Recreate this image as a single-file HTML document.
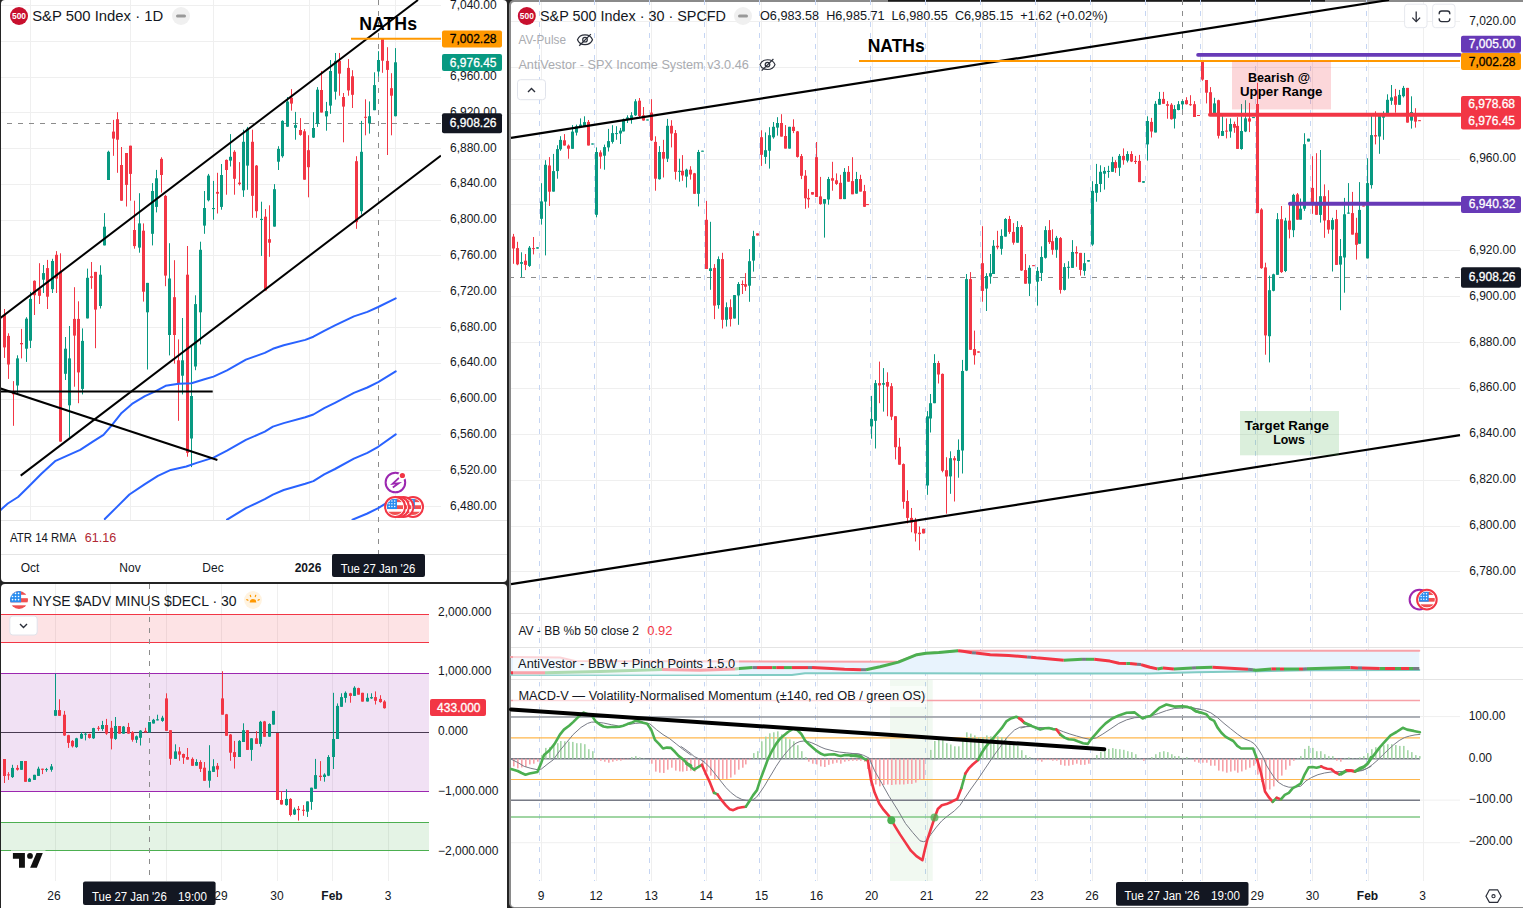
<!DOCTYPE html>
<html><head><meta charset="utf-8"><style>
html,body{margin:0;padding:0;width:1523px;height:908px;overflow:hidden;background:#fff;font-family:"Liberation Sans", sans-serif;}
svg{position:absolute;left:0;top:0;font-family:"Liberation Sans", sans-serif;}
</style></head><body>
<svg width="1523" height="908" viewBox="0 0 1523 908" shape-rendering="auto">
<defs><clipPath id="fc" clipPathUnits="objectBoundingBox"><circle cx="0.5" cy="0.5" r="0.5"/></clipPath></defs>
<rect x="0.00" y="0.00" width="1523.00" height="908.00" fill="#242424" rx="0" />
<rect x="1.00" y="0.00" width="506.00" height="582.00" fill="#fff" rx="4" />
<rect x="1.00" y="584.00" width="506.00" height="330.00" fill="#fff" rx="4" />
<rect x="509.00" y="0.00" width="1020.00" height="908.00" fill="#8a8a8a" rx="5" />
<rect x="511.00" y="2.00" width="1018.00" height="904.90" fill="#fff" rx="3.5" />
<rect x="888.00" y="0.00" width="437.00" height="1.60" fill="#1a1a1a" rx="0" />
<line x1="1.00" y1="506.50" x2="441.00" y2="506.50" stroke="#efefef" stroke-width="1" />
<line x1="1.00" y1="470.50" x2="441.00" y2="470.50" stroke="#efefef" stroke-width="1" />
<line x1="1.00" y1="434.50" x2="441.00" y2="434.50" stroke="#efefef" stroke-width="1" />
<line x1="1.00" y1="399.50" x2="441.00" y2="399.50" stroke="#efefef" stroke-width="1" />
<line x1="1.00" y1="363.50" x2="441.00" y2="363.50" stroke="#efefef" stroke-width="1" />
<line x1="1.00" y1="327.50" x2="441.00" y2="327.50" stroke="#efefef" stroke-width="1" />
<line x1="1.00" y1="291.50" x2="441.00" y2="291.50" stroke="#efefef" stroke-width="1" />
<line x1="1.00" y1="255.50" x2="441.00" y2="255.50" stroke="#efefef" stroke-width="1" />
<line x1="1.00" y1="220.50" x2="441.00" y2="220.50" stroke="#efefef" stroke-width="1" />
<line x1="1.00" y1="184.50" x2="441.00" y2="184.50" stroke="#efefef" stroke-width="1" />
<line x1="1.00" y1="148.50" x2="441.00" y2="148.50" stroke="#efefef" stroke-width="1" />
<line x1="1.00" y1="112.50" x2="441.00" y2="112.50" stroke="#efefef" stroke-width="1" />
<line x1="1.00" y1="77.50" x2="441.00" y2="77.50" stroke="#efefef" stroke-width="1" />
<line x1="1.00" y1="41.50" x2="441.00" y2="41.50" stroke="#efefef" stroke-width="1" />
<line x1="1.00" y1="5.50" x2="441.00" y2="5.50" stroke="#efefef" stroke-width="1" />
<line x1="30.50" y1="0.00" x2="30.50" y2="520.00" stroke="#efefef" stroke-width="1" />
<line x1="130.50" y1="0.00" x2="130.50" y2="520.00" stroke="#efefef" stroke-width="1" />
<line x1="213.50" y1="0.00" x2="213.50" y2="520.00" stroke="#efefef" stroke-width="1" />
<line x1="309.50" y1="0.00" x2="309.50" y2="520.00" stroke="#efefef" stroke-width="1" />
<line x1="395.50" y1="0.00" x2="395.50" y2="520.00" stroke="#efefef" stroke-width="1" />
<line x1="1.00" y1="520.50" x2="441.00" y2="520.50" stroke="#e4e4e4" stroke-width="1" />
<line x1="441.00" y1="520.50" x2="507.00" y2="520.50" stroke="#e4e4e4" stroke-width="1" />
<line x1="1.00" y1="554.50" x2="507.00" y2="554.50" stroke="#e4e4e4" stroke-width="1" />
<text x="450.0" y="505.5" font-size="12" fill="#131722" font-weight="normal" text-anchor="start" dominant-baseline="central" >6,480.00</text>
<text x="450.0" y="469.7" font-size="12" fill="#131722" font-weight="normal" text-anchor="start" dominant-baseline="central" >6,520.00</text>
<text x="450.0" y="433.9" font-size="12" fill="#131722" font-weight="normal" text-anchor="start" dominant-baseline="central" >6,560.00</text>
<text x="450.0" y="398.1" font-size="12" fill="#131722" font-weight="normal" text-anchor="start" dominant-baseline="central" >6,600.00</text>
<text x="450.0" y="362.3" font-size="12" fill="#131722" font-weight="normal" text-anchor="start" dominant-baseline="central" >6,640.00</text>
<text x="450.0" y="326.6" font-size="12" fill="#131722" font-weight="normal" text-anchor="start" dominant-baseline="central" >6,680.00</text>
<text x="450.0" y="290.8" font-size="12" fill="#131722" font-weight="normal" text-anchor="start" dominant-baseline="central" >6,720.00</text>
<text x="450.0" y="255.0" font-size="12" fill="#131722" font-weight="normal" text-anchor="start" dominant-baseline="central" >6,760.00</text>
<text x="450.0" y="219.2" font-size="12" fill="#131722" font-weight="normal" text-anchor="start" dominant-baseline="central" >6,800.00</text>
<text x="450.0" y="183.4" font-size="12" fill="#131722" font-weight="normal" text-anchor="start" dominant-baseline="central" >6,840.00</text>
<text x="450.0" y="147.6" font-size="12" fill="#131722" font-weight="normal" text-anchor="start" dominant-baseline="central" >6,880.00</text>
<text x="450.0" y="111.9" font-size="12" fill="#131722" font-weight="normal" text-anchor="start" dominant-baseline="central" >6,920.00</text>
<text x="450.0" y="76.1" font-size="12" fill="#131722" font-weight="normal" text-anchor="start" dominant-baseline="central" >6,960.00</text>
<text x="450.0" y="4.5" font-size="12" fill="#131722" font-weight="normal" text-anchor="start" dominant-baseline="central" >7,040.00</text>
<circle cx="19" cy="16" r="9" fill="#c8102e"/>
<text x="19.0" y="15.7" font-size="8.5" fill="#fff" font-weight="bold" text-anchor="middle" dominant-baseline="central" textLength="14" lengthAdjust="spacingAndGlyphs" >500</text>
<text x="32.2" y="16.0" font-size="14" fill="#131722" font-weight="normal" text-anchor="start" dominant-baseline="central" textLength="131" lengthAdjust="spacingAndGlyphs" >S&amp;P 500 Index · 1D</text>
<circle cx="181" cy="16" r="9" fill="#f0f0f0"/>
<rect x="176.00" y="14.50" width="10.00" height="3.00" fill="#999" rx="1.5" />
<text x="10.0" y="537.5" font-size="12.5" fill="#131722" font-weight="normal" text-anchor="start" dominant-baseline="central" textLength="66.4" lengthAdjust="spacingAndGlyphs" >ATR 14 RMA</text>
<text x="84.7" y="537.5" font-size="12.5" fill="#b22833" font-weight="normal" text-anchor="start" dominant-baseline="central" textLength="31.5" lengthAdjust="spacingAndGlyphs" >61.16</text>
<text x="30.0" y="567.5" font-size="12" fill="#131722" font-weight="normal" text-anchor="middle" dominant-baseline="central" >Oct</text>
<text x="130.0" y="567.5" font-size="12" fill="#131722" font-weight="normal" text-anchor="middle" dominant-baseline="central" >Nov</text>
<text x="213.0" y="567.5" font-size="12" fill="#131722" font-weight="normal" text-anchor="middle" dominant-baseline="central" >Dec</text>
<text x="308.0" y="567.5" font-size="12" fill="#131722" font-weight="bold" text-anchor="middle" dominant-baseline="central" >2026</text>
<rect x="332.00" y="554.00" width="93.00" height="23.00" fill="#131722" rx="2" />
<text x="378.0" y="568.5" font-size="12" fill="#fff" font-weight="normal" text-anchor="middle" dominant-baseline="central" textLength="74.7" lengthAdjust="spacingAndGlyphs" >Tue 27 Jan '26</text>
<line x1="55.50" y1="584.00" x2="55.50" y2="881.00" stroke="#efefef" stroke-width="1" />
<line x1="110.50" y1="584.00" x2="110.50" y2="881.00" stroke="#efefef" stroke-width="1" />
<line x1="166.50" y1="584.00" x2="166.50" y2="881.00" stroke="#efefef" stroke-width="1" />
<line x1="221.50" y1="584.00" x2="221.50" y2="881.00" stroke="#efefef" stroke-width="1" />
<line x1="277.50" y1="584.00" x2="277.50" y2="881.00" stroke="#efefef" stroke-width="1" />
<line x1="332.50" y1="584.00" x2="332.50" y2="881.00" stroke="#efefef" stroke-width="1" />
<line x1="388.50" y1="584.00" x2="388.50" y2="881.00" stroke="#efefef" stroke-width="1" />
<rect x="1.00" y="614.50" width="428.00" height="28.00" fill="rgba(242,54,69,0.14)" rx="0" />
<line x1="1.00" y1="614.50" x2="429.00" y2="614.50" stroke="#f23645" stroke-width="1" />
<line x1="1.00" y1="642.50" x2="429.00" y2="642.50" stroke="#f23645" stroke-width="1" />
<rect x="1.00" y="673.50" width="428.00" height="118.00" fill="rgba(156,39,176,0.14)" rx="0" />
<line x1="1.00" y1="673.50" x2="429.00" y2="673.50" stroke="#9c27b0" stroke-width="1" />
<line x1="1.00" y1="791.50" x2="429.00" y2="791.50" stroke="#9c27b0" stroke-width="1" />
<line x1="1.00" y1="732.50" x2="429.00" y2="732.50" stroke="#4a3b52" stroke-width="1" />
<rect x="1.00" y="822.50" width="428.00" height="28.00" fill="rgba(76,175,80,0.15)" rx="0" />
<line x1="1.00" y1="822.50" x2="429.00" y2="822.50" stroke="#4caf50" stroke-width="1" />
<line x1="1.00" y1="850.50" x2="429.00" y2="850.50" stroke="#4caf50" stroke-width="1" />
<text x="438.0" y="611.5" font-size="12" fill="#131722" font-weight="normal" text-anchor="start" dominant-baseline="central" >2,000.000</text>
<text x="438.0" y="671.4" font-size="12" fill="#131722" font-weight="normal" text-anchor="start" dominant-baseline="central" >1,000.000</text>
<text x="438.0" y="731.4" font-size="12" fill="#131722" font-weight="normal" text-anchor="start" dominant-baseline="central" >0.000</text>
<text x="438.0" y="791.4" font-size="12" fill="#131722" font-weight="normal" text-anchor="start" dominant-baseline="central" >−1,000.000</text>
<text x="438.0" y="851.3" font-size="12" fill="#131722" font-weight="normal" text-anchor="start" dominant-baseline="central" >−2,000.000</text>
<text x="32.5" y="600.5" font-size="14" fill="#131722" font-weight="normal" text-anchor="start" dominant-baseline="central" textLength="204" lengthAdjust="spacingAndGlyphs" >NYSE $ADV MINUS $DECL · 30</text>
<text x="54.0" y="896.3" font-size="12" fill="#131722" font-weight="normal" text-anchor="middle" dominant-baseline="central" >26</text>
<text x="221.0" y="896.3" font-size="12" fill="#131722" font-weight="normal" text-anchor="middle" dominant-baseline="central" >29</text>
<text x="277.0" y="896.3" font-size="12" fill="#131722" font-weight="normal" text-anchor="middle" dominant-baseline="central" >30</text>
<text x="332.0" y="896.3" font-size="12" fill="#131722" font-weight="bold" text-anchor="middle" dominant-baseline="central" >Feb</text>
<text x="388.0" y="896.3" font-size="12" fill="#131722" font-weight="normal" text-anchor="middle" dominant-baseline="central" >3</text>
<rect x="83.00" y="881.50" width="132.60" height="23.50" fill="#131722" rx="2" />
<text x="92.0" y="896.5" font-size="12" fill="#fff" font-weight="normal" text-anchor="start" dominant-baseline="central" textLength="74.8" lengthAdjust="spacingAndGlyphs" >Tue 27 Jan '26</text>
<text x="178.0" y="896.5" font-size="12" fill="#fff" font-weight="normal" text-anchor="start" dominant-baseline="central" textLength="29" lengthAdjust="spacingAndGlyphs" >19:00</text>
<line x1="511.00" y1="571.50" x2="1460.00" y2="571.50" stroke="#efefef" stroke-width="1" />
<line x1="511.00" y1="526.50" x2="1460.00" y2="526.50" stroke="#efefef" stroke-width="1" />
<line x1="511.00" y1="480.50" x2="1460.00" y2="480.50" stroke="#efefef" stroke-width="1" />
<line x1="511.00" y1="434.50" x2="1460.00" y2="434.50" stroke="#efefef" stroke-width="1" />
<line x1="511.00" y1="388.50" x2="1460.00" y2="388.50" stroke="#efefef" stroke-width="1" />
<line x1="511.00" y1="342.50" x2="1460.00" y2="342.50" stroke="#efefef" stroke-width="1" />
<line x1="511.00" y1="296.50" x2="1460.00" y2="296.50" stroke="#efefef" stroke-width="1" />
<line x1="511.00" y1="250.50" x2="1460.00" y2="250.50" stroke="#efefef" stroke-width="1" />
<line x1="511.00" y1="204.50" x2="1460.00" y2="204.50" stroke="#efefef" stroke-width="1" />
<line x1="511.00" y1="159.50" x2="1460.00" y2="159.50" stroke="#efefef" stroke-width="1" />
<line x1="511.00" y1="113.50" x2="1460.00" y2="113.50" stroke="#efefef" stroke-width="1" />
<line x1="511.00" y1="67.50" x2="1460.00" y2="67.50" stroke="#efefef" stroke-width="1" />
<line x1="511.00" y1="21.50" x2="1460.00" y2="21.50" stroke="#efefef" stroke-width="1" />
<line x1="541.50" y1="2.00" x2="541.50" y2="881.00" stroke="#efefef" stroke-width="1" />
<line x1="539.50" y1="0.00" x2="539.50" y2="881.00" stroke="#c5d5f3" stroke-width="1" stroke-dasharray="5,6" />
<line x1="596.50" y1="2.00" x2="596.50" y2="881.00" stroke="#efefef" stroke-width="1" />
<line x1="594.50" y1="0.00" x2="594.50" y2="881.00" stroke="#c5d5f3" stroke-width="1" stroke-dasharray="5,6" />
<line x1="651.50" y1="2.00" x2="651.50" y2="881.00" stroke="#efefef" stroke-width="1" />
<line x1="649.50" y1="0.00" x2="649.50" y2="881.00" stroke="#c5d5f3" stroke-width="1" stroke-dasharray="5,6" />
<line x1="706.50" y1="2.00" x2="706.50" y2="881.00" stroke="#efefef" stroke-width="1" />
<line x1="704.50" y1="0.00" x2="704.50" y2="881.00" stroke="#c5d5f3" stroke-width="1" stroke-dasharray="5,6" />
<line x1="761.50" y1="2.00" x2="761.50" y2="881.00" stroke="#efefef" stroke-width="1" />
<line x1="759.50" y1="0.00" x2="759.50" y2="881.00" stroke="#c5d5f3" stroke-width="1" stroke-dasharray="5,6" />
<line x1="817.50" y1="2.00" x2="817.50" y2="881.00" stroke="#efefef" stroke-width="1" />
<line x1="815.50" y1="0.00" x2="815.50" y2="881.00" stroke="#c5d5f3" stroke-width="1" stroke-dasharray="5,6" />
<line x1="872.50" y1="2.00" x2="872.50" y2="881.00" stroke="#efefef" stroke-width="1" />
<line x1="870.50" y1="0.00" x2="870.50" y2="881.00" stroke="#c5d5f3" stroke-width="1" stroke-dasharray="5,6" />
<line x1="927.50" y1="2.00" x2="927.50" y2="881.00" stroke="#efefef" stroke-width="1" />
<line x1="925.50" y1="0.00" x2="925.50" y2="881.00" stroke="#c5d5f3" stroke-width="1" stroke-dasharray="5,6" />
<line x1="982.50" y1="2.00" x2="982.50" y2="881.00" stroke="#efefef" stroke-width="1" />
<line x1="980.50" y1="0.00" x2="980.50" y2="881.00" stroke="#c5d5f3" stroke-width="1" stroke-dasharray="5,6" />
<line x1="1037.50" y1="2.00" x2="1037.50" y2="881.00" stroke="#efefef" stroke-width="1" />
<line x1="1035.50" y1="0.00" x2="1035.50" y2="881.00" stroke="#c5d5f3" stroke-width="1" stroke-dasharray="5,6" />
<line x1="1092.50" y1="2.00" x2="1092.50" y2="881.00" stroke="#efefef" stroke-width="1" />
<line x1="1090.50" y1="0.00" x2="1090.50" y2="881.00" stroke="#c5d5f3" stroke-width="1" stroke-dasharray="5,6" />
<line x1="1147.50" y1="2.00" x2="1147.50" y2="881.00" stroke="#efefef" stroke-width="1" />
<line x1="1145.50" y1="0.00" x2="1145.50" y2="881.00" stroke="#c5d5f3" stroke-width="1" stroke-dasharray="5,6" />
<line x1="1202.50" y1="2.00" x2="1202.50" y2="881.00" stroke="#efefef" stroke-width="1" />
<line x1="1200.50" y1="0.00" x2="1200.50" y2="881.00" stroke="#c5d5f3" stroke-width="1" stroke-dasharray="5,6" />
<line x1="1257.50" y1="2.00" x2="1257.50" y2="881.00" stroke="#efefef" stroke-width="1" />
<line x1="1255.50" y1="0.00" x2="1255.50" y2="881.00" stroke="#c5d5f3" stroke-width="1" stroke-dasharray="5,6" />
<line x1="1312.50" y1="2.00" x2="1312.50" y2="881.00" stroke="#efefef" stroke-width="1" />
<line x1="1310.50" y1="0.00" x2="1310.50" y2="881.00" stroke="#c5d5f3" stroke-width="1" stroke-dasharray="5,6" />
<line x1="1368.50" y1="2.00" x2="1368.50" y2="881.00" stroke="#efefef" stroke-width="1" />
<line x1="1366.50" y1="0.00" x2="1366.50" y2="881.00" stroke="#c5d5f3" stroke-width="1" stroke-dasharray="5,6" />
<line x1="1423.50" y1="2.00" x2="1423.50" y2="881.00" stroke="#efefef" stroke-width="1" />
<line x1="511.00" y1="613.50" x2="1523.00" y2="613.50" stroke="#e4e4e4" stroke-width="1" />
<line x1="511.00" y1="647.50" x2="1523.00" y2="647.50" stroke="#e4e4e4" stroke-width="1" />
<line x1="511.00" y1="679.50" x2="1523.00" y2="679.50" stroke="#e4e4e4" stroke-width="1" />
<text x="1469.2" y="570.9" font-size="12" fill="#131722" font-weight="normal" text-anchor="start" dominant-baseline="central" >6,780.00</text>
<text x="1469.2" y="525.0" font-size="12" fill="#131722" font-weight="normal" text-anchor="start" dominant-baseline="central" >6,800.00</text>
<text x="1469.2" y="479.2" font-size="12" fill="#131722" font-weight="normal" text-anchor="start" dominant-baseline="central" >6,820.00</text>
<text x="1469.2" y="433.3" font-size="12" fill="#131722" font-weight="normal" text-anchor="start" dominant-baseline="central" >6,840.00</text>
<text x="1469.2" y="387.4" font-size="12" fill="#131722" font-weight="normal" text-anchor="start" dominant-baseline="central" >6,860.00</text>
<text x="1469.2" y="341.6" font-size="12" fill="#131722" font-weight="normal" text-anchor="start" dominant-baseline="central" >6,880.00</text>
<text x="1469.2" y="295.7" font-size="12" fill="#131722" font-weight="normal" text-anchor="start" dominant-baseline="central" >6,900.00</text>
<text x="1469.2" y="249.8" font-size="12" fill="#131722" font-weight="normal" text-anchor="start" dominant-baseline="central" >6,920.00</text>
<text x="1469.2" y="158.1" font-size="12" fill="#131722" font-weight="normal" text-anchor="start" dominant-baseline="central" >6,960.00</text>
<text x="1469.2" y="20.5" font-size="12" fill="#131722" font-weight="normal" text-anchor="start" dominant-baseline="central" >7,020.00</text>
<circle cx="526.8" cy="16" r="9" fill="#c8102e"/>
<text x="526.8" y="15.7" font-size="8.5" fill="#fff" font-weight="bold" text-anchor="middle" dominant-baseline="central" textLength="14" lengthAdjust="spacingAndGlyphs" >500</text>
<text x="540.0" y="16.0" font-size="14" fill="#131722" font-weight="normal" text-anchor="start" dominant-baseline="central" textLength="186" lengthAdjust="spacingAndGlyphs" >S&amp;P 500 Index · 30 · SPCFD</text>
<circle cx="743" cy="16" r="9" fill="#f0f0f0"/>
<rect x="738.00" y="14.50" width="10.00" height="3.00" fill="#999" rx="1.5" />
<text x="760.0" y="16.0" font-size="12.5" fill="#131722" font-weight="normal" text-anchor="start" dominant-baseline="central" textLength="347.6" lengthAdjust="spacingAndGlyphs" >O6,983.58 &#160;H6,985.71 &#160;L6,980.55 &#160;C6,985.15 &#160;+1.62 (+0.02%)</text>
<text x="518.4" y="40.2" font-size="12.5" fill="#a9abb0" font-weight="normal" text-anchor="start" dominant-baseline="central" textLength="47.6" lengthAdjust="spacingAndGlyphs" >AV-Pulse</text>
<text x="518.4" y="64.6" font-size="12.5" fill="#a9abb0" font-weight="normal" text-anchor="start" dominant-baseline="central" textLength="230.4" lengthAdjust="spacingAndGlyphs" >AntiVestor - SPX Income System v3.0.46</text>
<rect x="517.50" y="79.70" width="28.00" height="20.00" fill="#fff" rx="3" stroke="#e0e3eb" stroke-width="1"/>
<text x="1468.7" y="716.1" font-size="12" fill="#131722" font-weight="normal" text-anchor="start" dominant-baseline="central" >100.00</text>
<text x="1468.7" y="757.7" font-size="12" fill="#131722" font-weight="normal" text-anchor="start" dominant-baseline="central" >0.00</text>
<text x="1468.7" y="799.3" font-size="12" fill="#131722" font-weight="normal" text-anchor="start" dominant-baseline="central" >−100.00</text>
<text x="1468.7" y="840.9" font-size="12" fill="#131722" font-weight="normal" text-anchor="start" dominant-baseline="central" >−200.00</text>
<text x="541.0" y="896.3" font-size="12" fill="#131722" font-weight="normal" text-anchor="middle" dominant-baseline="central" >9</text>
<text x="596.1" y="896.3" font-size="12" fill="#131722" font-weight="normal" text-anchor="middle" dominant-baseline="central" >12</text>
<text x="651.2" y="896.3" font-size="12" fill="#131722" font-weight="normal" text-anchor="middle" dominant-baseline="central" >13</text>
<text x="706.3" y="896.3" font-size="12" fill="#131722" font-weight="normal" text-anchor="middle" dominant-baseline="central" >14</text>
<text x="761.4" y="896.3" font-size="12" fill="#131722" font-weight="normal" text-anchor="middle" dominant-baseline="central" >15</text>
<text x="816.5" y="896.3" font-size="12" fill="#131722" font-weight="normal" text-anchor="middle" dominant-baseline="central" >16</text>
<text x="871.6" y="896.3" font-size="12" fill="#131722" font-weight="normal" text-anchor="middle" dominant-baseline="central" >20</text>
<text x="926.7" y="896.3" font-size="12" fill="#131722" font-weight="normal" text-anchor="middle" dominant-baseline="central" >21</text>
<text x="981.8" y="896.3" font-size="12" fill="#131722" font-weight="normal" text-anchor="middle" dominant-baseline="central" >22</text>
<text x="1036.9" y="896.3" font-size="12" fill="#131722" font-weight="normal" text-anchor="middle" dominant-baseline="central" >23</text>
<text x="1092.0" y="896.3" font-size="12" fill="#131722" font-weight="normal" text-anchor="middle" dominant-baseline="central" >26</text>
<text x="1257.3" y="896.3" font-size="12" fill="#131722" font-weight="normal" text-anchor="middle" dominant-baseline="central" >29</text>
<text x="1312.4" y="896.3" font-size="12" fill="#131722" font-weight="normal" text-anchor="middle" dominant-baseline="central" >30</text>
<text x="1367.5" y="896.3" font-size="12" fill="#131722" font-weight="bold" text-anchor="middle" dominant-baseline="central" >Feb</text>
<text x="1422.6" y="896.3" font-size="12" fill="#131722" font-weight="normal" text-anchor="middle" dominant-baseline="central" >3</text>
<rect x="1116.00" y="882.00" width="132.50" height="23.70" fill="#131722" rx="2" />
<text x="1124.5" y="896.3" font-size="12" fill="#fff" font-weight="normal" text-anchor="start" dominant-baseline="central" textLength="75.1" lengthAdjust="spacingAndGlyphs" >Tue 27 Jan '26</text>
<text x="1211.0" y="896.3" font-size="12" fill="#fff" font-weight="normal" text-anchor="start" dominant-baseline="central" textLength="29" lengthAdjust="spacingAndGlyphs" >19:00</text>
<line x1="1182.50" y1="0.00" x2="1182.50" y2="881.00" stroke="#8c8c8c" stroke-width="1" stroke-dasharray="5,6" />
<line x1="1460.00" y1="277.50" x2="511.00" y2="277.50" stroke="#8c8c8c" stroke-width="1" stroke-dasharray="5,6" />
<rect x="513" y="233.9" width="1" height="29.9" fill="#f23645"/>
<rect x="512" y="236.6" width="3" height="11.9" fill="#f23645"/>
<rect x="517" y="241.8" width="1" height="23.4" fill="#f23645"/>
<rect x="516" y="248.1" width="3" height="16.3" fill="#f23645"/>
<rect x="521" y="252.3" width="1" height="25.1" fill="#089981"/>
<rect x="520" y="262.1" width="3" height="1.7" fill="#089981"/>
<rect x="525" y="254.0" width="1" height="16.1" fill="#f23645"/>
<rect x="524" y="260.7" width="3" height="4.2" fill="#f23645"/>
<rect x="529" y="246.0" width="1" height="20.9" fill="#089981"/>
<rect x="528" y="247.7" width="3" height="18.2" fill="#089981"/>
<rect x="533" y="237.0" width="1" height="17.4" fill="#f23645"/>
<rect x="532" y="248.1" width="3" height="1.0" fill="#f23645"/>
<rect x="537" y="247.3" width="1" height="1.3" fill="#089981"/>
<rect x="536" y="247.3" width="3" height="1.3" fill="#089981"/>
<rect x="541" y="183.2" width="1" height="41.4" fill="#089981"/>
<rect x="540" y="201.4" width="3" height="17.4" fill="#089981"/>
<rect x="545" y="160.2" width="1" height="95.2" fill="#089981"/>
<rect x="544" y="164.8" width="3" height="36.8" fill="#089981"/>
<rect x="549" y="157.1" width="1" height="48.8" fill="#f23645"/>
<rect x="548" y="165.5" width="3" height="26.2" fill="#f23645"/>
<rect x="553" y="153.9" width="1" height="37.7" fill="#089981"/>
<rect x="552" y="171.1" width="3" height="20.5" fill="#089981"/>
<rect x="557" y="145.2" width="1" height="33.5" fill="#089981"/>
<rect x="556" y="149.1" width="3" height="22.0" fill="#089981"/>
<rect x="560" y="136.2" width="1" height="14.6" fill="#089981"/>
<rect x="559" y="139.9" width="3" height="9.4" fill="#089981"/>
<rect x="564" y="134.1" width="1" height="11.5" fill="#f23645"/>
<rect x="563" y="140.3" width="3" height="5.2" fill="#f23645"/>
<rect x="568" y="144.5" width="1" height="14.2" fill="#f23645"/>
<rect x="567" y="145.6" width="3" height="3.1" fill="#f23645"/>
<rect x="572" y="125.1" width="1" height="23.6" fill="#089981"/>
<rect x="571" y="131.6" width="3" height="17.2" fill="#089981"/>
<rect x="576" y="124.6" width="1" height="10.9" fill="#089981"/>
<rect x="575" y="126.3" width="3" height="6.3" fill="#089981"/>
<rect x="580" y="118.4" width="1" height="8.8" fill="#089981"/>
<rect x="579" y="124.6" width="3" height="2.1" fill="#089981"/>
<rect x="584" y="116.3" width="1" height="10.5" fill="#089981"/>
<rect x="583" y="122.1" width="3" height="4.2" fill="#089981"/>
<rect x="588" y="120.0" width="1" height="25.5" fill="#f23645"/>
<rect x="587" y="121.9" width="3" height="23.6" fill="#f23645"/>
<rect x="592" y="143.5" width="1" height="1.0" fill="#089981"/>
<rect x="591" y="143.5" width="3" height="1.0" fill="#089981"/>
<rect x="596" y="147.4" width="1" height="69.9" fill="#089981"/>
<rect x="595" y="152.0" width="3" height="62.8" fill="#089981"/>
<rect x="600" y="150.3" width="1" height="18.4" fill="#f23645"/>
<rect x="599" y="152.4" width="3" height="4.2" fill="#f23645"/>
<rect x="604" y="144.6" width="1" height="25.1" fill="#089981"/>
<rect x="603" y="147.1" width="3" height="8.6" fill="#089981"/>
<rect x="608" y="128.9" width="1" height="22.6" fill="#089981"/>
<rect x="607" y="141.1" width="3" height="6.3" fill="#089981"/>
<rect x="612" y="125.2" width="1" height="18.4" fill="#089981"/>
<rect x="611" y="133.1" width="3" height="8.8" fill="#089981"/>
<rect x="616" y="126.2" width="1" height="13.6" fill="#089981"/>
<rect x="615" y="133.1" width="3" height="1.0" fill="#089981"/>
<rect x="620" y="127.9" width="1" height="16.1" fill="#089981"/>
<rect x="619" y="130.6" width="3" height="2.9" fill="#089981"/>
<rect x="623" y="118.5" width="1" height="13.0" fill="#089981"/>
<rect x="622" y="119.5" width="3" height="11.9" fill="#089981"/>
<rect x="627" y="115.3" width="1" height="7.7" fill="#089981"/>
<rect x="626" y="117.4" width="3" height="2.7" fill="#089981"/>
<rect x="631" y="112.2" width="1" height="11.5" fill="#089981"/>
<rect x="630" y="115.3" width="3" height="4.2" fill="#089981"/>
<rect x="635" y="99.2" width="1" height="16.7" fill="#089981"/>
<rect x="634" y="101.3" width="3" height="14.0" fill="#089981"/>
<rect x="639" y="98.0" width="1" height="20.1" fill="#f23645"/>
<rect x="638" y="100.7" width="3" height="15.3" fill="#f23645"/>
<rect x="643" y="107.0" width="1" height="13.6" fill="#f23645"/>
<rect x="642" y="115.3" width="3" height="5.2" fill="#f23645"/>
<rect x="647" y="119.5" width="1" height="0.8" fill="#089981"/>
<rect x="646" y="119.5" width="3" height="1.0" fill="#089981"/>
<rect x="651" y="99.2" width="1" height="41.8" fill="#f23645"/>
<rect x="650" y="112.6" width="3" height="27.8" fill="#f23645"/>
<rect x="655" y="136.3" width="1" height="54.4" fill="#f23645"/>
<rect x="654" y="141.9" width="3" height="36.8" fill="#f23645"/>
<rect x="659" y="146.1" width="1" height="33.5" fill="#089981"/>
<rect x="658" y="152.0" width="3" height="27.2" fill="#089981"/>
<rect x="663" y="139.8" width="1" height="37.7" fill="#f23645"/>
<rect x="662" y="152.0" width="3" height="6.7" fill="#f23645"/>
<rect x="667" y="118.9" width="1" height="43.1" fill="#089981"/>
<rect x="666" y="125.8" width="3" height="32.9" fill="#089981"/>
<rect x="671" y="120.2" width="1" height="27.2" fill="#f23645"/>
<rect x="670" y="125.8" width="3" height="7.7" fill="#f23645"/>
<rect x="675" y="130.0" width="1" height="49.6" fill="#f23645"/>
<rect x="674" y="133.1" width="3" height="38.7" fill="#f23645"/>
<rect x="679" y="158.7" width="1" height="23.0" fill="#089981"/>
<rect x="678" y="170.8" width="3" height="1.0" fill="#089981"/>
<rect x="682" y="155.1" width="1" height="25.7" fill="#f23645"/>
<rect x="681" y="170.8" width="3" height="4.6" fill="#f23645"/>
<rect x="686" y="168.7" width="1" height="18.8" fill="#089981"/>
<rect x="685" y="169.7" width="3" height="6.9" fill="#089981"/>
<rect x="690" y="166.2" width="1" height="13.4" fill="#f23645"/>
<rect x="689" y="169.7" width="3" height="4.8" fill="#f23645"/>
<rect x="694" y="172.9" width="1" height="20.9" fill="#f23645"/>
<rect x="693" y="173.3" width="3" height="20.5" fill="#f23645"/>
<rect x="698" y="149.9" width="1" height="56.5" fill="#089981"/>
<rect x="697" y="152.0" width="3" height="41.8" fill="#089981"/>
<rect x="702" y="150.7" width="1" height="0.8" fill="#089981"/>
<rect x="701" y="150.7" width="3" height="1.0" fill="#089981"/>
<rect x="706" y="200.9" width="1" height="68.0" fill="#f23645"/>
<rect x="705" y="219.8" width="3" height="49.2" fill="#f23645"/>
<rect x="710" y="221.8" width="1" height="68.0" fill="#089981"/>
<rect x="709" y="268.3" width="3" height="2.7" fill="#089981"/>
<rect x="714" y="264.1" width="1" height="55.0" fill="#f23645"/>
<rect x="713" y="267.9" width="3" height="37.7" fill="#f23645"/>
<rect x="718" y="256.4" width="1" height="52.3" fill="#089981"/>
<rect x="717" y="259.1" width="3" height="46.0" fill="#089981"/>
<rect x="722" y="252.8" width="1" height="75.7" fill="#f23645"/>
<rect x="721" y="259.1" width="3" height="60.7" fill="#f23645"/>
<rect x="726" y="302.4" width="1" height="24.1" fill="#089981"/>
<rect x="725" y="307.2" width="3" height="12.6" fill="#089981"/>
<rect x="730" y="299.3" width="1" height="27.2" fill="#f23645"/>
<rect x="729" y="307.2" width="3" height="11.9" fill="#f23645"/>
<rect x="734" y="295.1" width="1" height="23.4" fill="#089981"/>
<rect x="733" y="295.1" width="3" height="23.4" fill="#089981"/>
<rect x="738" y="282.1" width="1" height="42.7" fill="#089981"/>
<rect x="737" y="284.0" width="3" height="11.5" fill="#089981"/>
<rect x="742" y="280.4" width="1" height="13.6" fill="#f23645"/>
<rect x="741" y="284.0" width="3" height="1.0" fill="#f23645"/>
<rect x="745" y="273.1" width="1" height="17.8" fill="#f23645"/>
<rect x="744" y="284.2" width="3" height="2.5" fill="#f23645"/>
<rect x="749" y="249.1" width="1" height="52.7" fill="#089981"/>
<rect x="748" y="261.2" width="3" height="24.5" fill="#089981"/>
<rect x="753" y="230.8" width="1" height="40.8" fill="#089981"/>
<rect x="752" y="236.1" width="3" height="24.5" fill="#089981"/>
<rect x="757" y="233.4" width="1" height="2.1" fill="#f23645"/>
<rect x="756" y="233.4" width="3" height="2.1" fill="#f23645"/>
<rect x="761" y="130.3" width="1" height="35.6" fill="#f23645"/>
<rect x="760" y="137.2" width="3" height="17.6" fill="#f23645"/>
<rect x="765" y="132.4" width="1" height="31.4" fill="#089981"/>
<rect x="764" y="150.2" width="3" height="6.7" fill="#089981"/>
<rect x="769" y="127.2" width="1" height="41.4" fill="#089981"/>
<rect x="768" y="135.2" width="3" height="15.5" fill="#089981"/>
<rect x="773" y="122.0" width="1" height="16.7" fill="#089981"/>
<rect x="772" y="126.8" width="3" height="10.5" fill="#089981"/>
<rect x="777" y="117.2" width="1" height="18.4" fill="#089981"/>
<rect x="776" y="123.0" width="3" height="4.6" fill="#089981"/>
<rect x="781" y="114.2" width="1" height="22.4" fill="#f23645"/>
<rect x="780" y="123.0" width="3" height="13.6" fill="#f23645"/>
<rect x="785" y="125.1" width="1" height="23.4" fill="#f23645"/>
<rect x="784" y="136.0" width="3" height="12.6" fill="#f23645"/>
<rect x="789" y="126.8" width="1" height="21.8" fill="#089981"/>
<rect x="788" y="126.8" width="3" height="21.8" fill="#089981"/>
<rect x="793" y="119.3" width="1" height="13.8" fill="#f23645"/>
<rect x="792" y="126.8" width="3" height="4.2" fill="#f23645"/>
<rect x="797" y="131.0" width="1" height="26.6" fill="#f23645"/>
<rect x="796" y="131.4" width="3" height="25.5" fill="#f23645"/>
<rect x="801" y="154.0" width="1" height="25.1" fill="#f23645"/>
<rect x="800" y="156.1" width="3" height="19.7" fill="#f23645"/>
<rect x="805" y="170.1" width="1" height="38.7" fill="#f23645"/>
<rect x="804" y="175.7" width="3" height="22.6" fill="#f23645"/>
<rect x="808" y="188.9" width="1" height="18.8" fill="#f23645"/>
<rect x="807" y="197.9" width="3" height="1.5" fill="#f23645"/>
<rect x="812" y="192.1" width="1" height="2.5" fill="#f23645"/>
<rect x="811" y="192.1" width="3" height="2.5" fill="#f23645"/>
<rect x="816" y="142.0" width="1" height="55.0" fill="#f23645"/>
<rect x="815" y="157.2" width="3" height="39.8" fill="#f23645"/>
<rect x="820" y="176.9" width="1" height="27.8" fill="#f23645"/>
<rect x="819" y="196.4" width="3" height="7.7" fill="#f23645"/>
<rect x="824" y="199.1" width="1" height="38.5" fill="#089981"/>
<rect x="823" y="199.1" width="3" height="4.6" fill="#089981"/>
<rect x="828" y="176.9" width="1" height="27.8" fill="#089981"/>
<rect x="827" y="179.0" width="3" height="20.5" fill="#089981"/>
<rect x="832" y="161.8" width="1" height="28.9" fill="#f23645"/>
<rect x="831" y="178.2" width="3" height="2.5" fill="#f23645"/>
<rect x="836" y="173.4" width="1" height="11.5" fill="#f23645"/>
<rect x="835" y="180.3" width="3" height="3.6" fill="#f23645"/>
<rect x="840" y="174.8" width="1" height="24.3" fill="#f23645"/>
<rect x="839" y="182.8" width="3" height="16.3" fill="#f23645"/>
<rect x="844" y="168.1" width="1" height="31.0" fill="#089981"/>
<rect x="843" y="171.9" width="3" height="27.2" fill="#089981"/>
<rect x="848" y="166.0" width="1" height="15.7" fill="#f23645"/>
<rect x="847" y="171.9" width="3" height="9.8" fill="#f23645"/>
<rect x="852" y="157.2" width="1" height="37.0" fill="#f23645"/>
<rect x="851" y="181.1" width="3" height="13.2" fill="#f23645"/>
<rect x="856" y="171.9" width="1" height="21.8" fill="#089981"/>
<rect x="855" y="179.0" width="3" height="14.6" fill="#089981"/>
<rect x="860" y="174.8" width="1" height="16.7" fill="#f23645"/>
<rect x="859" y="179.0" width="3" height="12.6" fill="#f23645"/>
<rect x="864" y="184.9" width="1" height="22.0" fill="#f23645"/>
<rect x="863" y="191.1" width="3" height="15.7" fill="#f23645"/>
<rect x="867" y="204.1" width="1" height="0.8" fill="#f23645"/>
<rect x="866" y="204.1" width="3" height="1.0" fill="#f23645"/>
<rect x="871" y="395.9" width="1" height="42.8" fill="#089981"/>
<rect x="870" y="419.0" width="3" height="7.4" fill="#089981"/>
<rect x="875" y="380.1" width="1" height="68.4" fill="#089981"/>
<rect x="874" y="383.1" width="3" height="37.7" fill="#089981"/>
<rect x="879" y="361.6" width="1" height="41.6" fill="#f23645"/>
<rect x="878" y="383.1" width="3" height="2.3" fill="#f23645"/>
<rect x="883" y="368.1" width="1" height="43.5" fill="#089981"/>
<rect x="882" y="383.1" width="3" height="1.6" fill="#089981"/>
<rect x="887" y="372.3" width="1" height="43.9" fill="#f23645"/>
<rect x="886" y="382.0" width="3" height="4.6" fill="#f23645"/>
<rect x="891" y="383.1" width="1" height="37.0" fill="#f23645"/>
<rect x="890" y="386.2" width="3" height="30.5" fill="#f23645"/>
<rect x="895" y="416.2" width="1" height="43.2" fill="#f23645"/>
<rect x="894" y="416.2" width="3" height="31.0" fill="#f23645"/>
<rect x="899" y="437.9" width="1" height="26.8" fill="#f23645"/>
<rect x="898" y="446.7" width="3" height="18.0" fill="#f23645"/>
<rect x="903" y="463.4" width="1" height="45.3" fill="#f23645"/>
<rect x="902" y="464.1" width="3" height="37.7" fill="#f23645"/>
<rect x="907" y="490.2" width="1" height="33.3" fill="#f23645"/>
<rect x="906" y="501.0" width="3" height="16.9" fill="#f23645"/>
<rect x="911" y="508.0" width="1" height="24.3" fill="#f23645"/>
<rect x="910" y="517.9" width="3" height="4.6" fill="#f23645"/>
<rect x="915" y="517.9" width="1" height="23.6" fill="#f23645"/>
<rect x="914" y="520.7" width="3" height="12.7" fill="#f23645"/>
<rect x="919" y="526.5" width="1" height="23.8" fill="#f23645"/>
<rect x="918" y="532.7" width="3" height="1.4" fill="#f23645"/>
<rect x="923" y="528.8" width="1" height="4.6" fill="#f23645"/>
<rect x="922" y="528.8" width="3" height="4.6" fill="#f23645"/>
<rect x="927" y="411.1" width="1" height="83.7" fill="#089981"/>
<rect x="926" y="416.4" width="3" height="69.1" fill="#089981"/>
<rect x="930" y="394.0" width="1" height="38.5" fill="#089981"/>
<rect x="929" y="403.2" width="3" height="15.3" fill="#089981"/>
<rect x="934" y="354.2" width="1" height="49.0" fill="#089981"/>
<rect x="933" y="363.0" width="3" height="40.2" fill="#089981"/>
<rect x="938" y="360.9" width="1" height="22.6" fill="#f23645"/>
<rect x="937" y="363.0" width="3" height="11.5" fill="#f23645"/>
<rect x="942" y="373.5" width="1" height="98.8" fill="#f23645"/>
<rect x="941" y="373.9" width="3" height="96.9" fill="#f23645"/>
<rect x="946" y="457.2" width="1" height="56.5" fill="#f23645"/>
<rect x="945" y="470.2" width="3" height="6.3" fill="#f23645"/>
<rect x="950" y="451.3" width="1" height="42.5" fill="#089981"/>
<rect x="949" y="458.2" width="3" height="18.2" fill="#089981"/>
<rect x="954" y="456.1" width="1" height="45.4" fill="#f23645"/>
<rect x="953" y="458.2" width="3" height="2.1" fill="#f23645"/>
<rect x="958" y="439.4" width="1" height="38.3" fill="#089981"/>
<rect x="957" y="449.9" width="3" height="11.1" fill="#089981"/>
<rect x="962" y="359.9" width="1" height="113.6" fill="#089981"/>
<rect x="961" y="371.0" width="3" height="79.5" fill="#089981"/>
<rect x="966" y="274.0" width="1" height="97.1" fill="#089981"/>
<rect x="965" y="279.1" width="3" height="91.5" fill="#089981"/>
<rect x="970" y="272.1" width="1" height="77.7" fill="#f23645"/>
<rect x="969" y="279.1" width="3" height="70.7" fill="#f23645"/>
<rect x="974" y="330.6" width="1" height="34.0" fill="#f23645"/>
<rect x="973" y="349.1" width="3" height="6.2" fill="#f23645"/>
<rect x="978" y="351.4" width="1" height="1.2" fill="#f23645"/>
<rect x="977" y="351.4" width="3" height="1.2" fill="#f23645"/>
<rect x="982" y="226.2" width="1" height="75.5" fill="#f23645"/>
<rect x="981" y="263.2" width="3" height="27.7" fill="#f23645"/>
<rect x="986" y="273.2" width="1" height="37.8" fill="#089981"/>
<rect x="985" y="276.0" width="3" height="12.6" fill="#089981"/>
<rect x="990" y="254.0" width="1" height="29.7" fill="#089981"/>
<rect x="989" y="273.2" width="3" height="3.4" fill="#089981"/>
<rect x="993" y="240.1" width="1" height="33.9" fill="#089981"/>
<rect x="992" y="245.8" width="3" height="28.2" fill="#089981"/>
<rect x="997" y="230.8" width="1" height="18.5" fill="#f23645"/>
<rect x="996" y="245.8" width="3" height="1.5" fill="#f23645"/>
<rect x="1001" y="229.3" width="1" height="25.4" fill="#089981"/>
<rect x="1000" y="235.9" width="3" height="12.9" fill="#089981"/>
<rect x="1005" y="218.1" width="1" height="18.5" fill="#089981"/>
<rect x="1004" y="219.0" width="3" height="17.6" fill="#089981"/>
<rect x="1009" y="215.9" width="1" height="18.0" fill="#f23645"/>
<rect x="1008" y="219.0" width="3" height="12.9" fill="#f23645"/>
<rect x="1013" y="223.1" width="1" height="21.6" fill="#f23645"/>
<rect x="1012" y="231.9" width="3" height="10.8" fill="#f23645"/>
<rect x="1017" y="221.1" width="1" height="21.6" fill="#089981"/>
<rect x="1016" y="227.0" width="3" height="15.7" fill="#089981"/>
<rect x="1021" y="225.1" width="1" height="45.8" fill="#f23645"/>
<rect x="1020" y="227.0" width="3" height="43.5" fill="#f23645"/>
<rect x="1025" y="254.0" width="1" height="29.7" fill="#f23645"/>
<rect x="1024" y="270.1" width="3" height="13.6" fill="#f23645"/>
<rect x="1029" y="265.2" width="1" height="30.8" fill="#089981"/>
<rect x="1028" y="267.8" width="3" height="15.9" fill="#089981"/>
<rect x="1033" y="265.2" width="1" height="0.8" fill="#f23645"/>
<rect x="1032" y="265.2" width="3" height="1.0" fill="#f23645"/>
<rect x="1037" y="267.1" width="1" height="38.5" fill="#089981"/>
<rect x="1036" y="270.9" width="3" height="10.8" fill="#089981"/>
<rect x="1041" y="246.3" width="1" height="34.7" fill="#089981"/>
<rect x="1040" y="257.0" width="3" height="15.9" fill="#089981"/>
<rect x="1045" y="226.2" width="1" height="32.4" fill="#089981"/>
<rect x="1044" y="230.1" width="3" height="27.7" fill="#089981"/>
<rect x="1049" y="220.1" width="1" height="23.9" fill="#f23645"/>
<rect x="1048" y="230.1" width="3" height="12.0" fill="#f23645"/>
<rect x="1052" y="229.3" width="1" height="25.4" fill="#f23645"/>
<rect x="1051" y="241.2" width="3" height="8.6" fill="#f23645"/>
<rect x="1056" y="235.9" width="1" height="21.9" fill="#089981"/>
<rect x="1055" y="237.8" width="3" height="12.0" fill="#089981"/>
<rect x="1060" y="237.0" width="1" height="56.6" fill="#f23645"/>
<rect x="1059" y="238.1" width="3" height="51.8" fill="#f23645"/>
<rect x="1064" y="263.2" width="1" height="27.3" fill="#089981"/>
<rect x="1063" y="267.1" width="3" height="22.8" fill="#089981"/>
<rect x="1068" y="261.2" width="1" height="17.4" fill="#089981"/>
<rect x="1067" y="266.8" width="3" height="1.0" fill="#089981"/>
<rect x="1072" y="240.1" width="1" height="27.7" fill="#089981"/>
<rect x="1071" y="252.0" width="3" height="15.9" fill="#089981"/>
<rect x="1076" y="246.3" width="1" height="20.5" fill="#f23645"/>
<rect x="1075" y="252.0" width="3" height="1.5" fill="#f23645"/>
<rect x="1080" y="252.9" width="1" height="22.7" fill="#f23645"/>
<rect x="1079" y="252.9" width="3" height="17.0" fill="#f23645"/>
<rect x="1084" y="252.9" width="1" height="22.7" fill="#089981"/>
<rect x="1083" y="263.2" width="3" height="7.7" fill="#089981"/>
<rect x="1088" y="260.1" width="1" height="1.5" fill="#089981"/>
<rect x="1087" y="260.1" width="3" height="1.5" fill="#089981"/>
<rect x="1092" y="181.2" width="1" height="64.6" fill="#089981"/>
<rect x="1091" y="190.9" width="3" height="53.6" fill="#089981"/>
<rect x="1096" y="163.9" width="1" height="37.8" fill="#089981"/>
<rect x="1095" y="184.0" width="3" height="8.8" fill="#089981"/>
<rect x="1100" y="165.3" width="1" height="26.8" fill="#089981"/>
<rect x="1099" y="171.8" width="3" height="12.2" fill="#089981"/>
<rect x="1104" y="167.1" width="1" height="22.5" fill="#089981"/>
<rect x="1103" y="170.9" width="3" height="2.8" fill="#089981"/>
<rect x="1108" y="165.8" width="1" height="12.0" fill="#089981"/>
<rect x="1107" y="170.9" width="3" height="1.0" fill="#089981"/>
<rect x="1112" y="156.8" width="1" height="15.0" fill="#089981"/>
<rect x="1111" y="162.1" width="3" height="9.7" fill="#089981"/>
<rect x="1115" y="160.2" width="1" height="12.6" fill="#f23645"/>
<rect x="1114" y="162.1" width="3" height="6.0" fill="#f23645"/>
<rect x="1119" y="154.0" width="1" height="21.9" fill="#089981"/>
<rect x="1118" y="155.9" width="3" height="11.8" fill="#089981"/>
<rect x="1123" y="148.4" width="1" height="16.3" fill="#f23645"/>
<rect x="1122" y="155.9" width="3" height="4.3" fill="#f23645"/>
<rect x="1127" y="151.2" width="1" height="11.2" fill="#089981"/>
<rect x="1126" y="154.0" width="3" height="6.6" fill="#089981"/>
<rect x="1131" y="151.2" width="1" height="10.9" fill="#f23645"/>
<rect x="1130" y="154.0" width="3" height="7.5" fill="#f23645"/>
<rect x="1135" y="155.9" width="1" height="8.1" fill="#f23645"/>
<rect x="1134" y="160.9" width="3" height="1.1" fill="#f23645"/>
<rect x="1139" y="154.9" width="1" height="27.2" fill="#f23645"/>
<rect x="1138" y="160.9" width="3" height="21.2" fill="#f23645"/>
<rect x="1143" y="181.2" width="1" height="1.5" fill="#089981"/>
<rect x="1142" y="181.2" width="3" height="1.5" fill="#089981"/>
<rect x="1147" y="116.3" width="1" height="44.3" fill="#089981"/>
<rect x="1146" y="121.0" width="3" height="23.4" fill="#089981"/>
<rect x="1151" y="117.9" width="1" height="19.6" fill="#f23645"/>
<rect x="1150" y="121.9" width="3" height="9.6" fill="#f23645"/>
<rect x="1155" y="101.1" width="1" height="31.3" fill="#089981"/>
<rect x="1154" y="103.8" width="3" height="28.7" fill="#089981"/>
<rect x="1159" y="91.9" width="1" height="12.8" fill="#089981"/>
<rect x="1158" y="98.9" width="3" height="5.8" fill="#089981"/>
<rect x="1163" y="91.9" width="1" height="11.9" fill="#f23645"/>
<rect x="1162" y="98.9" width="3" height="4.9" fill="#f23645"/>
<rect x="1167" y="101.1" width="1" height="17.6" fill="#f23645"/>
<rect x="1166" y="104.2" width="3" height="1.6" fill="#f23645"/>
<rect x="1171" y="103.1" width="1" height="16.5" fill="#f23645"/>
<rect x="1170" y="104.7" width="3" height="14.5" fill="#f23645"/>
<rect x="1174" y="105.1" width="1" height="23.4" fill="#089981"/>
<rect x="1173" y="109.1" width="3" height="9.6" fill="#089981"/>
<rect x="1178" y="101.1" width="1" height="9.2" fill="#089981"/>
<rect x="1177" y="104.2" width="3" height="5.8" fill="#089981"/>
<rect x="1182" y="100.7" width="1" height="9.0" fill="#089981"/>
<rect x="1181" y="101.1" width="3" height="3.3" fill="#089981"/>
<rect x="1186" y="97.2" width="1" height="7.3" fill="#f23645"/>
<rect x="1185" y="100.2" width="3" height="4.0" fill="#f23645"/>
<rect x="1190" y="95.2" width="1" height="10.6" fill="#f23645"/>
<rect x="1189" y="104.2" width="3" height="1.0" fill="#f23645"/>
<rect x="1194" y="101.1" width="1" height="15.9" fill="#f23645"/>
<rect x="1193" y="104.2" width="3" height="12.8" fill="#f23645"/>
<rect x="1198" y="115.0" width="1" height="0.8" fill="#f23645"/>
<rect x="1197" y="115.0" width="3" height="1.0" fill="#f23645"/>
<rect x="1202" y="61.1" width="1" height="19.6" fill="#f23645"/>
<rect x="1201" y="61.1" width="3" height="18.5" fill="#f23645"/>
<rect x="1206" y="80.0" width="1" height="23.4" fill="#f23645"/>
<rect x="1205" y="80.0" width="3" height="12.7" fill="#f23645"/>
<rect x="1210" y="87.1" width="1" height="28.5" fill="#f23645"/>
<rect x="1209" y="92.2" width="3" height="23.4" fill="#f23645"/>
<rect x="1214" y="97.8" width="1" height="17.8" fill="#089981"/>
<rect x="1213" y="103.4" width="3" height="12.2" fill="#089981"/>
<rect x="1218" y="99.7" width="1" height="38.8" fill="#f23645"/>
<rect x="1217" y="100.2" width="3" height="35.6" fill="#f23645"/>
<rect x="1222" y="113.4" width="1" height="22.5" fill="#089981"/>
<rect x="1221" y="131.0" width="3" height="4.9" fill="#089981"/>
<rect x="1226" y="118.4" width="1" height="20.0" fill="#f23645"/>
<rect x="1225" y="130.6" width="3" height="1.0" fill="#f23645"/>
<rect x="1230" y="118.4" width="1" height="19.3" fill="#089981"/>
<rect x="1229" y="124.0" width="3" height="7.5" fill="#089981"/>
<rect x="1234" y="121.6" width="1" height="11.2" fill="#f23645"/>
<rect x="1233" y="124.0" width="3" height="3.7" fill="#f23645"/>
<rect x="1237" y="117.1" width="1" height="31.9" fill="#f23645"/>
<rect x="1236" y="125.9" width="3" height="23.0" fill="#f23645"/>
<rect x="1241" y="104.0" width="1" height="45.7" fill="#089981"/>
<rect x="1240" y="131.0" width="3" height="18.0" fill="#089981"/>
<rect x="1245" y="100.2" width="1" height="31.9" fill="#089981"/>
<rect x="1244" y="118.4" width="3" height="13.1" fill="#089981"/>
<rect x="1249" y="102.9" width="1" height="29.2" fill="#f23645"/>
<rect x="1248" y="118.4" width="3" height="3.2" fill="#f23645"/>
<rect x="1253" y="117.1" width="1" height="0.8" fill="#089981"/>
<rect x="1252" y="117.1" width="3" height="1.0" fill="#089981"/>
<rect x="1257" y="82.8" width="1" height="130.2" fill="#f23645"/>
<rect x="1256" y="104.0" width="3" height="109.1" fill="#f23645"/>
<rect x="1261" y="208.2" width="1" height="60.6" fill="#f23645"/>
<rect x="1260" y="209.5" width="3" height="58.7" fill="#f23645"/>
<rect x="1265" y="262.7" width="1" height="92.0" fill="#f23645"/>
<rect x="1264" y="267.4" width="3" height="68.0" fill="#f23645"/>
<rect x="1269" y="275.6" width="1" height="86.8" fill="#089981"/>
<rect x="1268" y="290.2" width="3" height="46.0" fill="#089981"/>
<rect x="1273" y="273.7" width="1" height="17.6" fill="#089981"/>
<rect x="1272" y="274.3" width="3" height="16.5" fill="#089981"/>
<rect x="1277" y="213.1" width="1" height="61.7" fill="#089981"/>
<rect x="1276" y="219.2" width="3" height="55.6" fill="#089981"/>
<rect x="1281" y="206.0" width="1" height="66.9" fill="#f23645"/>
<rect x="1280" y="219.2" width="3" height="52.9" fill="#f23645"/>
<rect x="1285" y="217.8" width="1" height="54.3" fill="#089981"/>
<rect x="1284" y="220.6" width="3" height="50.4" fill="#089981"/>
<rect x="1289" y="204.0" width="1" height="34.4" fill="#f23645"/>
<rect x="1288" y="220.6" width="3" height="9.1" fill="#f23645"/>
<rect x="1293" y="193.8" width="1" height="43.3" fill="#089981"/>
<rect x="1292" y="194.9" width="3" height="35.3" fill="#089981"/>
<rect x="1297" y="193.0" width="1" height="26.7" fill="#f23645"/>
<rect x="1296" y="194.4" width="3" height="25.3" fill="#f23645"/>
<rect x="1300" y="198.5" width="1" height="21.2" fill="#089981"/>
<rect x="1299" y="208.7" width="3" height="11.0" fill="#089981"/>
<rect x="1304" y="133.2" width="1" height="77.7" fill="#089981"/>
<rect x="1303" y="144.2" width="3" height="64.5" fill="#089981"/>
<rect x="1308" y="138.7" width="1" height="2.8" fill="#089981"/>
<rect x="1307" y="138.7" width="3" height="2.8" fill="#089981"/>
<rect x="1312" y="156.2" width="1" height="57.6" fill="#f23645"/>
<rect x="1311" y="187.9" width="3" height="15.0" fill="#f23645"/>
<rect x="1316" y="153.2" width="1" height="61.7" fill="#f23645"/>
<rect x="1315" y="202.5" width="3" height="12.3" fill="#f23645"/>
<rect x="1320" y="150.0" width="1" height="72.6" fill="#089981"/>
<rect x="1319" y="196.2" width="3" height="18.7" fill="#089981"/>
<rect x="1324" y="184.4" width="1" height="53.4" fill="#f23645"/>
<rect x="1323" y="196.2" width="3" height="24.3" fill="#f23645"/>
<rect x="1328" y="190.2" width="1" height="43.5" fill="#f23645"/>
<rect x="1327" y="220.1" width="3" height="9.5" fill="#f23645"/>
<rect x="1332" y="217.8" width="1" height="53.7" fill="#089981"/>
<rect x="1331" y="220.1" width="3" height="9.5" fill="#089981"/>
<rect x="1336" y="209.9" width="1" height="55.0" fill="#f23645"/>
<rect x="1335" y="219.1" width="3" height="45.8" fill="#f23645"/>
<rect x="1340" y="239.0" width="1" height="71.2" fill="#089981"/>
<rect x="1339" y="256.1" width="3" height="8.5" fill="#089981"/>
<rect x="1344" y="197.9" width="1" height="94.8" fill="#089981"/>
<rect x="1343" y="214.3" width="3" height="43.2" fill="#089981"/>
<rect x="1348" y="183.1" width="1" height="30.7" fill="#089981"/>
<rect x="1347" y="212.6" width="3" height="1.0" fill="#089981"/>
<rect x="1352" y="191.9" width="1" height="42.6" fill="#f23645"/>
<rect x="1351" y="213.1" width="3" height="21.5" fill="#f23645"/>
<rect x="1356" y="217.8" width="1" height="41.8" fill="#f23645"/>
<rect x="1355" y="232.8" width="3" height="12.0" fill="#f23645"/>
<rect x="1359" y="182.1" width="1" height="61.7" fill="#089981"/>
<rect x="1358" y="209.9" width="3" height="33.8" fill="#089981"/>
<rect x="1363" y="205.5" width="1" height="0.9" fill="#f23645"/>
<rect x="1362" y="205.5" width="3" height="1.0" fill="#f23645"/>
<rect x="1367" y="158.3" width="1" height="100.1" fill="#089981"/>
<rect x="1366" y="183.1" width="3" height="75.3" fill="#089981"/>
<rect x="1371" y="113.3" width="1" height="75.3" fill="#089981"/>
<rect x="1370" y="135.1" width="3" height="50.0" fill="#089981"/>
<rect x="1375" y="111.3" width="1" height="33.1" fill="#f23645"/>
<rect x="1374" y="135.1" width="3" height="1.4" fill="#f23645"/>
<rect x="1379" y="115.7" width="1" height="38.1" fill="#089981"/>
<rect x="1378" y="116.1" width="3" height="20.4" fill="#089981"/>
<rect x="1383" y="111.3" width="1" height="28.5" fill="#089981"/>
<rect x="1382" y="113.3" width="3" height="4.4" fill="#089981"/>
<rect x="1387" y="94.3" width="1" height="20.4" fill="#089981"/>
<rect x="1386" y="99.8" width="3" height="13.9" fill="#089981"/>
<rect x="1391" y="85.0" width="1" height="19.8" fill="#089981"/>
<rect x="1390" y="97.4" width="3" height="3.4" fill="#089981"/>
<rect x="1395" y="88.9" width="1" height="23.8" fill="#f23645"/>
<rect x="1394" y="96.3" width="3" height="8.5" fill="#f23645"/>
<rect x="1399" y="89.9" width="1" height="14.9" fill="#089981"/>
<rect x="1398" y="94.9" width="3" height="9.9" fill="#089981"/>
<rect x="1403" y="85.9" width="1" height="11.5" fill="#089981"/>
<rect x="1402" y="87.9" width="3" height="8.3" fill="#089981"/>
<rect x="1407" y="87.9" width="1" height="34.7" fill="#f23645"/>
<rect x="1406" y="87.9" width="3" height="34.7" fill="#f23645"/>
<rect x="1411" y="96.3" width="1" height="32.3" fill="#089981"/>
<rect x="1410" y="112.1" width="3" height="8.5" fill="#089981"/>
<rect x="1415" y="108.2" width="1" height="19.4" fill="#f23645"/>
<rect x="1414" y="115.3" width="3" height="6.3" fill="#f23645"/>
<rect x="1419" y="120.2" width="1" height="0.8" fill="#f23645"/>
<rect x="1418" y="120.2" width="3" height="1.0" fill="#f23645"/>
<line x1="511.00" y1="137.80" x2="1389.00" y2="0.00" stroke="#000" stroke-width="2.2" />
<line x1="511.00" y1="584.10" x2="1460.00" y2="435.20" stroke="#000" stroke-width="2.2" />
<line x1="859.00" y1="60.90" x2="1460.00" y2="60.90" stroke="#ff9800" stroke-width="2" />
<text x="867.7" y="45.3" font-size="19" fill="#000" font-weight="bold" text-anchor="start" dominant-baseline="central" textLength="57" lengthAdjust="spacingAndGlyphs" >NATHs</text>
<line x1="1198.00" y1="54.90" x2="1460.00" y2="54.90" stroke="#673ab7" stroke-width="3.6" stroke-linecap="round"/>
<line x1="1210.00" y1="114.80" x2="1460.00" y2="114.80" stroke="#f23645" stroke-width="4" stroke-linecap="round"/>
<line x1="1290.00" y1="203.80" x2="1460.00" y2="203.80" stroke="#673ab7" stroke-width="4" stroke-linecap="round"/>
<rect x="1232.00" y="61.40" width="99.00" height="48.00" fill="rgba(242,54,69,0.2)" rx="0" />
<text x="1247.9" y="77.4" font-size="13" fill="#000" font-weight="bold" text-anchor="start" dominant-baseline="central" textLength="62.1" lengthAdjust="spacingAndGlyphs" >Bearish @</text>
<text x="1240.0" y="91.7" font-size="13" fill="#000" font-weight="bold" text-anchor="start" dominant-baseline="central" textLength="82.5" lengthAdjust="spacingAndGlyphs" >Upper Range</text>
<rect x="1240.00" y="411.00" width="99.00" height="44.30" fill="rgba(76,175,80,0.2)" rx="0" />
<text x="1244.8" y="425.3" font-size="13" fill="#000" font-weight="bold" text-anchor="start" dominant-baseline="central" textLength="84.2" lengthAdjust="spacingAndGlyphs" >Target Range</text>
<text x="1273.3" y="439.2" font-size="13" fill="#000" font-weight="bold" text-anchor="start" dominant-baseline="central" textLength="31.5" lengthAdjust="spacingAndGlyphs" >Lows</text>
<rect x="1461.00" y="35.70" width="60.00" height="17.00" fill="#673ab7" rx="2" />
<text x="1515.5" y="44.2" font-size="12" fill="#fff" font-weight="normal" text-anchor="end" dominant-baseline="central" stroke="#fff" stroke-width="0.3">7,005.00</text>
<rect x="1461.00" y="53.00" width="60.00" height="17.00" fill="#ff9800" rx="2" />
<text x="1515.5" y="61.5" font-size="12" fill="#000" font-weight="normal" text-anchor="end" dominant-baseline="central" stroke="#000" stroke-width="0.3">7,002.28</text>
<rect x="1461.00" y="96.00" width="60.00" height="33.60" fill="#f23645" rx="2" />
<text x="1515.0" y="103.8" font-size="12" fill="#fff" font-weight="normal" text-anchor="end" dominant-baseline="central" stroke="#fff" stroke-width="0.3">6,978.68</text>
<text x="1515.0" y="120.8" font-size="12" fill="#fff" font-weight="normal" text-anchor="end" dominant-baseline="central" stroke="#fff" stroke-width="0.3">6,976.45</text>
<rect x="1461.00" y="195.90" width="60.00" height="17.00" fill="#673ab7" rx="2" />
<text x="1515.5" y="204.4" font-size="12" fill="#fff" font-weight="normal" text-anchor="end" dominant-baseline="central" stroke="#fff" stroke-width="0.3">6,940.32</text>
<rect x="1461.00" y="267.15" width="60.00" height="20.50" fill="#131722" rx="2" />
<text x="1515.5" y="277.4" font-size="12" fill="#fff" font-weight="normal" text-anchor="end" dominant-baseline="central" stroke="#fff" stroke-width="0.3">6,908.26</text>
<line x1="378.50" y1="0.00" x2="378.50" y2="554.00" stroke="#8c8c8c" stroke-width="1" stroke-dasharray="5,6" />
<line x1="441.00" y1="123.50" x2="1.00" y2="123.50" stroke="#8c8c8c" stroke-width="1" stroke-dasharray="5,6" />
<rect x="4" y="309.0" width="1" height="48.9" fill="#f23645"/>
<rect x="3" y="315.0" width="3" height="32.4" fill="#f23645"/>
<rect x="8" y="333.3" width="1" height="45.6" fill="#f23645"/>
<rect x="7" y="335.9" width="3" height="28.6" fill="#f23645"/>
<rect x="13" y="381.1" width="1" height="44.7" fill="#f23645"/>
<rect x="12" y="391.0" width="3" height="3.3" fill="#f23645"/>
<rect x="17" y="355.3" width="1" height="39.0" fill="#089981"/>
<rect x="16" y="358.4" width="3" height="27.1" fill="#089981"/>
<rect x="21" y="328.9" width="1" height="29.5" fill="#f23645"/>
<rect x="20" y="343.0" width="3" height="1.3" fill="#f23645"/>
<rect x="26" y="317.2" width="1" height="44.7" fill="#089981"/>
<rect x="25" y="318.7" width="3" height="30.0" fill="#089981"/>
<rect x="30" y="291.9" width="1" height="56.1" fill="#089981"/>
<rect x="29" y="298.9" width="3" height="41.8" fill="#089981"/>
<rect x="34" y="280.4" width="1" height="34.6" fill="#f23645"/>
<rect x="33" y="280.8" width="3" height="14.4" fill="#f23645"/>
<rect x="39" y="263.2" width="1" height="40.8" fill="#f23645"/>
<rect x="38" y="289.2" width="3" height="6.6" fill="#f23645"/>
<rect x="43" y="265.0" width="1" height="28.0" fill="#089981"/>
<rect x="42" y="273.1" width="3" height="6.6" fill="#089981"/>
<rect x="47" y="259.9" width="1" height="49.1" fill="#f23645"/>
<rect x="46" y="268.1" width="3" height="28.6" fill="#f23645"/>
<rect x="52" y="258.8" width="1" height="34.2" fill="#089981"/>
<rect x="51" y="261.0" width="3" height="28.2" fill="#089981"/>
<rect x="56" y="251.1" width="1" height="41.9" fill="#f23645"/>
<rect x="55" y="254.8" width="3" height="23.8" fill="#f23645"/>
<rect x="60" y="253.3" width="1" height="188.3" fill="#f23645"/>
<rect x="59" y="271.6" width="3" height="170.0" fill="#f23645"/>
<rect x="65" y="337.0" width="1" height="43.0" fill="#089981"/>
<rect x="64" y="348.7" width="3" height="25.1" fill="#089981"/>
<rect x="69" y="326.0" width="1" height="111.2" fill="#089981"/>
<rect x="68" y="358.4" width="3" height="46.9" fill="#089981"/>
<rect x="74" y="287.2" width="1" height="99.5" fill="#f23645"/>
<rect x="73" y="318.9" width="3" height="16.7" fill="#f23645"/>
<rect x="78" y="301.3" width="1" height="101.9" fill="#f23645"/>
<rect x="77" y="318.9" width="3" height="53.5" fill="#f23645"/>
<rect x="82" y="328.4" width="1" height="66.0" fill="#089981"/>
<rect x="81" y="340.9" width="3" height="48.0" fill="#089981"/>
<rect x="87" y="268.6" width="1" height="49.8" fill="#089981"/>
<rect x="86" y="277.8" width="3" height="40.6" fill="#089981"/>
<rect x="91" y="262.0" width="1" height="26.8" fill="#f23645"/>
<rect x="90" y="276.3" width="3" height="1.5" fill="#f23645"/>
<rect x="95" y="271.9" width="1" height="76.3" fill="#f23645"/>
<rect x="94" y="271.9" width="3" height="37.7" fill="#f23645"/>
<rect x="100" y="265.3" width="1" height="43.2" fill="#089981"/>
<rect x="99" y="274.7" width="3" height="31.3" fill="#089981"/>
<rect x="104" y="213.1" width="1" height="32.3" fill="#089981"/>
<rect x="103" y="226.7" width="3" height="18.7" fill="#089981"/>
<rect x="108" y="150.7" width="1" height="29.3" fill="#089981"/>
<rect x="107" y="151.8" width="3" height="28.2" fill="#089981"/>
<rect x="113" y="119.9" width="1" height="35.9" fill="#f23645"/>
<rect x="112" y="131.6" width="3" height="7.0" fill="#f23645"/>
<rect x="117" y="112.2" width="1" height="60.6" fill="#f23645"/>
<rect x="116" y="119.2" width="3" height="20.5" fill="#f23645"/>
<rect x="121" y="147.0" width="1" height="53.7" fill="#f23645"/>
<rect x="120" y="165.0" width="3" height="35.7" fill="#f23645"/>
<rect x="126" y="153.0" width="1" height="53.5" fill="#f23645"/>
<rect x="125" y="153.0" width="3" height="31.9" fill="#f23645"/>
<rect x="130" y="145.7" width="1" height="55.0" fill="#f23645"/>
<rect x="129" y="145.7" width="3" height="28.2" fill="#f23645"/>
<rect x="134" y="200.7" width="1" height="48.0" fill="#f23645"/>
<rect x="133" y="230.0" width="3" height="16.1" fill="#f23645"/>
<rect x="139" y="193.2" width="1" height="59.5" fill="#089981"/>
<rect x="138" y="223.4" width="3" height="24.2" fill="#089981"/>
<rect x="143" y="223.4" width="1" height="78.2" fill="#f23645"/>
<rect x="142" y="230.7" width="3" height="61.0" fill="#f23645"/>
<rect x="147" y="282.9" width="1" height="86.6" fill="#089981"/>
<rect x="146" y="282.9" width="3" height="29.4" fill="#089981"/>
<rect x="152" y="183.1" width="1" height="62.3" fill="#089981"/>
<rect x="151" y="191.0" width="3" height="42.8" fill="#089981"/>
<rect x="156" y="169.9" width="1" height="42.5" fill="#089981"/>
<rect x="155" y="178.3" width="3" height="28.6" fill="#089981"/>
<rect x="161" y="157.3" width="1" height="35.3" fill="#f23645"/>
<rect x="160" y="158.9" width="3" height="16.1" fill="#f23645"/>
<rect x="165" y="194.8" width="1" height="91.4" fill="#f23645"/>
<rect x="164" y="195.9" width="3" height="79.7" fill="#f23645"/>
<rect x="169" y="243.2" width="1" height="112.2" fill="#089981"/>
<rect x="168" y="278.5" width="3" height="56.5" fill="#089981"/>
<rect x="174" y="260.2" width="1" height="103.4" fill="#f23645"/>
<rect x="173" y="297.2" width="3" height="37.8" fill="#f23645"/>
<rect x="178" y="339.4" width="1" height="81.4" fill="#f23645"/>
<rect x="177" y="360.3" width="3" height="23.1" fill="#f23645"/>
<rect x="182" y="318.0" width="1" height="76.4" fill="#089981"/>
<rect x="181" y="360.3" width="3" height="15.4" fill="#089981"/>
<rect x="187" y="246.0" width="1" height="210.7" fill="#f23645"/>
<rect x="186" y="274.7" width="3" height="178.1" fill="#f23645"/>
<rect x="191" y="344.9" width="1" height="122.2" fill="#089981"/>
<rect x="190" y="396.0" width="3" height="42.5" fill="#089981"/>
<rect x="195" y="295.3" width="1" height="74.9" fill="#089981"/>
<rect x="194" y="304.1" width="3" height="62.4" fill="#089981"/>
<rect x="200" y="241.7" width="1" height="102.7" fill="#089981"/>
<rect x="199" y="249.8" width="3" height="62.5" fill="#089981"/>
<rect x="204" y="191.0" width="1" height="42.8" fill="#089981"/>
<rect x="203" y="208.0" width="3" height="17.6" fill="#089981"/>
<rect x="208" y="173.9" width="1" height="27.5" fill="#089981"/>
<rect x="207" y="175.6" width="3" height="24.7" fill="#089981"/>
<rect x="213" y="180.9" width="1" height="38.8" fill="#089981"/>
<rect x="212" y="208.0" width="3" height="1.1" fill="#089981"/>
<rect x="217" y="172.8" width="1" height="40.7" fill="#f23645"/>
<rect x="216" y="191.9" width="3" height="1.8" fill="#f23645"/>
<rect x="221" y="164.0" width="1" height="45.7" fill="#089981"/>
<rect x="220" y="175.0" width="3" height="31.9" fill="#089981"/>
<rect x="226" y="159.5" width="1" height="35.2" fill="#f23645"/>
<rect x="225" y="159.9" width="3" height="10.1" fill="#f23645"/>
<rect x="230" y="134.1" width="1" height="32.4" fill="#089981"/>
<rect x="229" y="156.8" width="3" height="3.8" fill="#089981"/>
<rect x="234" y="150.2" width="1" height="44.5" fill="#f23645"/>
<rect x="233" y="151.8" width="3" height="27.0" fill="#f23645"/>
<rect x="239" y="162.1" width="1" height="23.3" fill="#f23645"/>
<rect x="238" y="182.6" width="3" height="1.5" fill="#f23645"/>
<rect x="243" y="129.7" width="1" height="67.2" fill="#089981"/>
<rect x="242" y="141.8" width="3" height="48.5" fill="#089981"/>
<rect x="247" y="126.9" width="1" height="62.9" fill="#089981"/>
<rect x="246" y="128.6" width="3" height="37.0" fill="#089981"/>
<rect x="252" y="129.7" width="1" height="88.1" fill="#f23645"/>
<rect x="251" y="141.8" width="3" height="54.0" fill="#f23645"/>
<rect x="256" y="165.0" width="1" height="52.8" fill="#f23645"/>
<rect x="255" y="165.6" width="3" height="45.6" fill="#f23645"/>
<rect x="261" y="201.7" width="1" height="54.2" fill="#089981"/>
<rect x="260" y="218.9" width="3" height="1.1" fill="#089981"/>
<rect x="265" y="209.0" width="1" height="81.5" fill="#f23645"/>
<rect x="264" y="216.7" width="3" height="73.8" fill="#f23645"/>
<rect x="269" y="205.3" width="1" height="51.5" fill="#f23645"/>
<rect x="268" y="239.2" width="3" height="3.5" fill="#f23645"/>
<rect x="274" y="184.1" width="1" height="42.5" fill="#089981"/>
<rect x="273" y="189.2" width="3" height="37.4" fill="#089981"/>
<rect x="278" y="146.2" width="1" height="23.8" fill="#089981"/>
<rect x="277" y="148.9" width="3" height="12.8" fill="#089981"/>
<rect x="282" y="120.3" width="1" height="37.4" fill="#089981"/>
<rect x="281" y="120.9" width="3" height="35.3" fill="#089981"/>
<rect x="287" y="97.0" width="1" height="29.9" fill="#089981"/>
<rect x="286" y="101.6" width="3" height="25.1" fill="#089981"/>
<rect x="291" y="89.1" width="1" height="21.5" fill="#f23645"/>
<rect x="290" y="97.7" width="3" height="5.9" fill="#f23645"/>
<rect x="295" y="111.9" width="1" height="27.8" fill="#089981"/>
<rect x="294" y="125.1" width="3" height="2.7" fill="#089981"/>
<rect x="300" y="118.1" width="1" height="17.6" fill="#f23645"/>
<rect x="299" y="130.0" width="3" height="4.9" fill="#f23645"/>
<rect x="304" y="129.1" width="1" height="50.6" fill="#f23645"/>
<rect x="303" y="131.3" width="3" height="48.4" fill="#f23645"/>
<rect x="308" y="135.2" width="1" height="62.1" fill="#f23645"/>
<rect x="307" y="150.2" width="3" height="17.0" fill="#f23645"/>
<rect x="313" y="112.2" width="1" height="25.8" fill="#089981"/>
<rect x="312" y="128.0" width="3" height="9.6" fill="#089981"/>
<rect x="317" y="87.1" width="1" height="39.8" fill="#089981"/>
<rect x="316" y="89.7" width="3" height="34.1" fill="#089981"/>
<rect x="321" y="71.0" width="1" height="41.5" fill="#f23645"/>
<rect x="320" y="90.0" width="3" height="22.5" fill="#f23645"/>
<rect x="326" y="101.9" width="1" height="28.8" fill="#089981"/>
<rect x="325" y="111.1" width="3" height="5.3" fill="#089981"/>
<rect x="330" y="60.0" width="1" height="53.8" fill="#089981"/>
<rect x="329" y="71.0" width="3" height="34.6" fill="#089981"/>
<rect x="335" y="53.0" width="1" height="46.6" fill="#089981"/>
<rect x="334" y="60.9" width="3" height="30.8" fill="#089981"/>
<rect x="339" y="53.0" width="1" height="42.7" fill="#f23645"/>
<rect x="338" y="60.9" width="3" height="12.7" fill="#f23645"/>
<rect x="343" y="93.0" width="1" height="49.3" fill="#f23645"/>
<rect x="342" y="97.0" width="3" height="9.6" fill="#f23645"/>
<rect x="348" y="59.1" width="1" height="36.6" fill="#f23645"/>
<rect x="347" y="67.9" width="3" height="22.5" fill="#f23645"/>
<rect x="352" y="70.2" width="1" height="37.8" fill="#f23645"/>
<rect x="351" y="76.3" width="3" height="18.5" fill="#f23645"/>
<rect x="356" y="156.2" width="1" height="72.6" fill="#f23645"/>
<rect x="355" y="161.2" width="3" height="61.0" fill="#f23645"/>
<rect x="361" y="120.9" width="1" height="93.6" fill="#089981"/>
<rect x="360" y="151.8" width="3" height="59.4" fill="#089981"/>
<rect x="365" y="99.3" width="1" height="36.0" fill="#f23645"/>
<rect x="364" y="116.8" width="3" height="1.0" fill="#f23645"/>
<rect x="369" y="101.4" width="1" height="32.2" fill="#089981"/>
<rect x="368" y="116.2" width="3" height="7.2" fill="#089981"/>
<rect x="374" y="72.3" width="1" height="37.9" fill="#089981"/>
<rect x="373" y="85.1" width="3" height="25.1" fill="#089981"/>
<rect x="378" y="51.2" width="1" height="25.6" fill="#089981"/>
<rect x="377" y="60.0" width="3" height="11.5" fill="#089981"/>
<rect x="382" y="38.9" width="1" height="33.9" fill="#f23645"/>
<rect x="381" y="38.9" width="3" height="21.8" fill="#f23645"/>
<rect x="387" y="47.2" width="1" height="107.8" fill="#f23645"/>
<rect x="386" y="60.9" width="3" height="9.0" fill="#f23645"/>
<rect x="391" y="73.2" width="1" height="62.1" fill="#f23645"/>
<rect x="390" y="88.2" width="3" height="7.5" fill="#f23645"/>
<rect x="395" y="48.1" width="1" height="68.3" fill="#089981"/>
<rect x="394" y="62.3" width="3" height="53.9" fill="#089981"/>
<clipPath id="cLT"><rect x="1" y="0" width="440" height="520"/></clipPath>
<g clip-path="url(#cLT)">
<polyline points="0.0,510.5 7.8,503.5 18.1,497.0 28.5,486.7 41.4,473.7 55.6,460.8 67.3,455.6 80.2,449.9 93.2,441.4 103.5,434.9 111.3,425.9 121.6,412.9 132.0,403.9 144.9,396.1 155.3,391.4 165.6,385.8 178.6,383.7 191.5,383.2 204.5,379.3 213.5,376.6 227.0,370.4 245.9,359.6 264.8,352.9 272.9,348.8 283.7,345.3 305.3,339.9 313.4,336.7 324.2,330.8 335.0,325.4 353.9,316.4 367.4,311.9 378.2,307.0 395.7,298.4" fill="none" stroke="#2962ff" stroke-width="2" stroke-linejoin="round" stroke-linecap="round" />
<polyline points="104.8,519.0 116.5,507.4 129.4,494.5 144.9,484.1 157.9,475.8 170.8,469.9 186.3,466.5 196.7,462.9 213.5,457.6 227.0,450.6 245.9,439.8 264.8,431.7 272.9,426.6 283.7,423.1 305.3,417.2 313.4,414.5 324.2,408.2 335.0,402.8 353.9,392.9 367.4,387.5 378.2,382.1 395.7,371.3" fill="none" stroke="#2962ff" stroke-width="2" stroke-linejoin="round" stroke-linecap="round" />
<polyline points="227.0,519.7 245.9,508.1 264.8,499.2 272.9,494.6 283.7,490.0 305.3,483.8 313.4,481.1 324.2,474.4 335.0,469.0 353.9,458.7 367.4,452.8 378.2,446.8 395.7,434.4" fill="none" stroke="#2962ff" stroke-width="2" stroke-linejoin="round" stroke-linecap="round" />
<polyline points="352.5,519.7 367.4,513.5 378.2,508.1 395.7,497.3" fill="none" stroke="#2962ff" stroke-width="2" stroke-linejoin="round" stroke-linecap="round" />
<line x1="0.00" y1="318.20" x2="418.00" y2="0.00" stroke="#000" stroke-width="2" />
<line x1="20.70" y1="475.60" x2="441.00" y2="155.50" stroke="#000" stroke-width="2" />
<line x1="0.00" y1="391.50" x2="212.70" y2="391.50" stroke="#000" stroke-width="2" />
<line x1="0.00" y1="388.30" x2="217.40" y2="460.00" stroke="#000" stroke-width="2" />
</g>
<line x1="351.00" y1="38.80" x2="441.00" y2="38.80" stroke="#ff9800" stroke-width="2" />
<text x="359.3" y="23.0" font-size="19" fill="#000" font-weight="bold" text-anchor="start" dominant-baseline="central" textLength="57.7" lengthAdjust="spacingAndGlyphs" >NATHs</text>
<rect x="442.00" y="30.50" width="60.00" height="17.00" fill="#ff9800" rx="2" />
<text x="496.5" y="39.0" font-size="12" fill="#000" font-weight="normal" text-anchor="end" dominant-baseline="central" stroke="#000" stroke-width="0.3">7,002.28</text>
<rect x="442.00" y="54.00" width="60.00" height="17.00" fill="#089981" rx="2" />
<text x="496.5" y="62.5" font-size="12" fill="#fff" font-weight="normal" text-anchor="end" dominant-baseline="central" stroke="#fff" stroke-width="0.3">6,976.45</text>
<rect x="442.00" y="113.30" width="60.00" height="20.00" fill="#131722" rx="2" />
<text x="496.5" y="123.3" font-size="12" fill="#fff" font-weight="normal" text-anchor="end" dominant-baseline="central" stroke="#fff" stroke-width="0.3">6,908.26</text>
<circle cx="395.4" cy="482.5" r="9.8" fill="#fff" stroke="#9c27b0" stroke-width="2"/>
<polyline points="399.2,477.6 392.6,483.9 398.8,483.2 392.8,487.6" fill="none" stroke="#9c27b0" stroke-width="1.8" stroke-linejoin="miter"/>
<circle cx="402.4" cy="475.5" r="4.3" fill="#fff"/>
<circle cx="402.4" cy="475.5" r="2.6" fill="#f23645"/>
<circle cx="413" cy="506.9" r="10" fill="#fff" stroke="#f23645" stroke-width="2"/>
<g transform="translate(404.80,498.70) scale(0.8200)"><g clip-path="url(#fc)"><rect width="20" height="20" fill="#fff"/>
<rect x="0" y="0" width="20" height="4.2" fill="#f05050"/><rect x="0" y="8" width="20" height="4.6" fill="#f05050"/><rect x="0" y="15.9" width="20" height="4.1" fill="#f05050"/>
<rect x="0" y="0" width="12.3" height="12.6" fill="#2b8ef0"/>
<g fill="#fff"><circle cx="2.8" cy="2.7" r="0.9"/><circle cx="6.1" cy="2.7" r="0.9"/><circle cx="9.5" cy="2.7" r="0.9"/>
<circle cx="2.8" cy="6.1" r="0.9"/><circle cx="6.1" cy="6.1" r="0.9"/><circle cx="9.5" cy="6.1" r="0.9"/>
<circle cx="2.8" cy="9.6" r="0.9"/><circle cx="6.1" cy="9.6" r="0.9"/><circle cx="9.5" cy="9.6" r="0.9"/></g></g></g>
<circle cx="403.4" cy="506.9" r="10" fill="#fff" stroke="#f23645" stroke-width="2"/>
<g transform="translate(395.20,498.70) scale(0.8200)"><g clip-path="url(#fc)"><rect width="20" height="20" fill="#fff"/>
<rect x="0" y="0" width="20" height="4.2" fill="#f05050"/><rect x="0" y="8" width="20" height="4.6" fill="#f05050"/><rect x="0" y="15.9" width="20" height="4.1" fill="#f05050"/>
<rect x="0" y="0" width="12.3" height="12.6" fill="#2b8ef0"/>
<g fill="#fff"><circle cx="2.8" cy="2.7" r="0.9"/><circle cx="6.1" cy="2.7" r="0.9"/><circle cx="9.5" cy="2.7" r="0.9"/>
<circle cx="2.8" cy="6.1" r="0.9"/><circle cx="6.1" cy="6.1" r="0.9"/><circle cx="9.5" cy="6.1" r="0.9"/>
<circle cx="2.8" cy="9.6" r="0.9"/><circle cx="6.1" cy="9.6" r="0.9"/><circle cx="9.5" cy="9.6" r="0.9"/></g></g></g>
<circle cx="398.9" cy="506.9" r="10" fill="#fff" stroke="#f23645" stroke-width="2"/>
<g transform="translate(390.70,498.70) scale(0.8200)"><g clip-path="url(#fc)"><rect width="20" height="20" fill="#fff"/>
<rect x="0" y="0" width="20" height="4.2" fill="#f05050"/><rect x="0" y="8" width="20" height="4.6" fill="#f05050"/><rect x="0" y="15.9" width="20" height="4.1" fill="#f05050"/>
<rect x="0" y="0" width="12.3" height="12.6" fill="#2b8ef0"/>
<g fill="#fff"><circle cx="2.8" cy="2.7" r="0.9"/><circle cx="6.1" cy="2.7" r="0.9"/><circle cx="9.5" cy="2.7" r="0.9"/>
<circle cx="2.8" cy="6.1" r="0.9"/><circle cx="6.1" cy="6.1" r="0.9"/><circle cx="9.5" cy="6.1" r="0.9"/>
<circle cx="2.8" cy="9.6" r="0.9"/><circle cx="6.1" cy="9.6" r="0.9"/><circle cx="9.5" cy="9.6" r="0.9"/></g></g></g>
<circle cx="395.1" cy="506.9" r="10" fill="#fff" stroke="#f23645" stroke-width="2"/>
<g transform="translate(386.90,498.70) scale(0.8200)"><g clip-path="url(#fc)"><rect width="20" height="20" fill="#fff"/>
<rect x="0" y="0" width="20" height="4.2" fill="#f05050"/><rect x="0" y="8" width="20" height="4.6" fill="#f05050"/><rect x="0" y="15.9" width="20" height="4.1" fill="#f05050"/>
<rect x="0" y="0" width="12.3" height="12.6" fill="#2b8ef0"/>
<g fill="#fff"><circle cx="2.8" cy="2.7" r="0.9"/><circle cx="6.1" cy="2.7" r="0.9"/><circle cx="9.5" cy="2.7" r="0.9"/>
<circle cx="2.8" cy="6.1" r="0.9"/><circle cx="6.1" cy="6.1" r="0.9"/><circle cx="9.5" cy="6.1" r="0.9"/>
<circle cx="2.8" cy="9.6" r="0.9"/><circle cx="6.1" cy="9.6" r="0.9"/><circle cx="9.5" cy="9.6" r="0.9"/></g></g></g>
<g transform="translate(10.00,591.00) scale(0.9000)"><g clip-path="url(#fc)"><rect width="20" height="20" fill="#fff"/>
<rect x="0" y="0" width="20" height="4.2" fill="#f05050"/><rect x="0" y="8" width="20" height="4.6" fill="#f05050"/><rect x="0" y="15.9" width="20" height="4.1" fill="#f05050"/>
<rect x="0" y="0" width="12.3" height="12.6" fill="#2b8ef0"/>
<g fill="#fff"><circle cx="2.8" cy="2.7" r="0.9"/><circle cx="6.1" cy="2.7" r="0.9"/><circle cx="9.5" cy="2.7" r="0.9"/>
<circle cx="2.8" cy="6.1" r="0.9"/><circle cx="6.1" cy="6.1" r="0.9"/><circle cx="9.5" cy="6.1" r="0.9"/>
<circle cx="2.8" cy="9.6" r="0.9"/><circle cx="6.1" cy="9.6" r="0.9"/><circle cx="9.5" cy="9.6" r="0.9"/></g></g></g>
<circle cx="1419.4" cy="599.6" r="9.8" fill="#fff" stroke="#9c27b0" stroke-width="2"/>
<circle cx="1426.9" cy="599.6" r="9.8" fill="#fff" stroke="#f23645" stroke-width="2"/>
<g transform="translate(1418.90,591.60) scale(0.8000)"><g clip-path="url(#fc)"><rect width="20" height="20" fill="#fff"/>
<rect x="0" y="0" width="20" height="4.2" fill="#f05050"/><rect x="0" y="8" width="20" height="4.6" fill="#f05050"/><rect x="0" y="15.9" width="20" height="4.1" fill="#f05050"/>
<rect x="0" y="0" width="12.3" height="12.6" fill="#2b8ef0"/>
<g fill="#fff"><circle cx="2.8" cy="2.7" r="0.9"/><circle cx="6.1" cy="2.7" r="0.9"/><circle cx="9.5" cy="2.7" r="0.9"/>
<circle cx="2.8" cy="6.1" r="0.9"/><circle cx="6.1" cy="6.1" r="0.9"/><circle cx="9.5" cy="6.1" r="0.9"/>
<circle cx="2.8" cy="9.6" r="0.9"/><circle cx="6.1" cy="9.6" r="0.9"/><circle cx="9.5" cy="9.6" r="0.9"/></g></g></g>
<line x1="149.50" y1="584.00" x2="149.50" y2="881.00" stroke="#8c8c8c" stroke-width="1" stroke-dasharray="5,6" />
<rect x="4" y="759.0" width="1" height="24.0" fill="#f23645"/>
<rect x="3" y="759.0" width="3" height="17.0" fill="#f23645"/>
<rect x="8" y="772.2" width="1" height="7.7" fill="#f23645"/>
<rect x="7" y="774.4" width="3" height="1.0" fill="#f23645"/>
<rect x="12" y="764.8" width="1" height="13.1" fill="#089981"/>
<rect x="11" y="767.9" width="3" height="9.2" fill="#089981"/>
<rect x="17" y="765.1" width="1" height="5.5" fill="#f23645"/>
<rect x="16" y="767.9" width="3" height="1.8" fill="#f23645"/>
<rect x="21" y="761.0" width="1" height="8.8" fill="#089981"/>
<rect x="20" y="761.0" width="3" height="8.8" fill="#089981"/>
<rect x="25" y="761.0" width="1" height="20.8" fill="#f23645"/>
<rect x="24" y="761.0" width="3" height="20.8" fill="#f23645"/>
<rect x="29" y="777.9" width="1" height="3.9" fill="#089981"/>
<rect x="28" y="778.7" width="3" height="3.1" fill="#089981"/>
<rect x="34" y="774.8" width="1" height="5.1" fill="#089981"/>
<rect x="33" y="774.8" width="3" height="5.1" fill="#089981"/>
<rect x="38" y="766.7" width="1" height="9.2" fill="#089981"/>
<rect x="37" y="768.7" width="3" height="7.2" fill="#089981"/>
<rect x="42" y="768.7" width="1" height="5.4" fill="#f23645"/>
<rect x="41" y="768.7" width="3" height="1.1" fill="#f23645"/>
<rect x="46" y="767.9" width="1" height="3.9" fill="#089981"/>
<rect x="45" y="769.1" width="3" height="1.0" fill="#089981"/>
<rect x="51" y="764.0" width="1" height="7.7" fill="#089981"/>
<rect x="50" y="766.4" width="3" height="3.4" fill="#089981"/>
<rect x="55" y="673.6" width="1" height="42.2" fill="#089981"/>
<rect x="54" y="710.1" width="3" height="5.7" fill="#089981"/>
<rect x="59" y="699.3" width="1" height="16.5" fill="#f23645"/>
<rect x="58" y="710.1" width="3" height="5.7" fill="#f23645"/>
<rect x="64" y="710.9" width="1" height="25.0" fill="#f23645"/>
<rect x="63" y="714.7" width="3" height="20.8" fill="#f23645"/>
<rect x="68" y="734.8" width="1" height="13.1" fill="#f23645"/>
<rect x="67" y="735.2" width="3" height="7.7" fill="#f23645"/>
<rect x="72" y="740.1" width="1" height="7.4" fill="#f23645"/>
<rect x="71" y="740.9" width="3" height="5.4" fill="#f23645"/>
<rect x="76" y="737.8" width="1" height="10.0" fill="#089981"/>
<rect x="75" y="738.3" width="3" height="8.8" fill="#089981"/>
<rect x="81" y="732.1" width="1" height="6.8" fill="#089981"/>
<rect x="80" y="734.0" width="3" height="4.6" fill="#089981"/>
<rect x="85" y="732.4" width="1" height="8.0" fill="#089981"/>
<rect x="84" y="733.7" width="3" height="1.0" fill="#089981"/>
<rect x="89" y="733.7" width="1" height="4.9" fill="#f23645"/>
<rect x="88" y="734.0" width="3" height="3.9" fill="#f23645"/>
<rect x="93" y="727.8" width="1" height="11.1" fill="#089981"/>
<rect x="92" y="728.1" width="3" height="10.2" fill="#089981"/>
<rect x="98" y="726.0" width="1" height="4.9" fill="#f23645"/>
<rect x="97" y="727.8" width="3" height="1.0" fill="#f23645"/>
<rect x="102" y="720.9" width="1" height="10.0" fill="#089981"/>
<rect x="101" y="725.0" width="3" height="4.0" fill="#089981"/>
<rect x="106" y="718.9" width="1" height="15.9" fill="#f23645"/>
<rect x="105" y="725.0" width="3" height="8.6" fill="#f23645"/>
<rect x="111" y="720.9" width="1" height="28.5" fill="#f23645"/>
<rect x="110" y="727.8" width="3" height="10.8" fill="#f23645"/>
<rect x="115" y="717.0" width="1" height="22.8" fill="#089981"/>
<rect x="114" y="726.0" width="3" height="12.9" fill="#089981"/>
<rect x="119" y="726.0" width="1" height="7.7" fill="#f23645"/>
<rect x="118" y="726.0" width="3" height="7.7" fill="#f23645"/>
<rect x="123" y="726.0" width="1" height="7.7" fill="#089981"/>
<rect x="122" y="726.6" width="3" height="7.1" fill="#089981"/>
<rect x="128" y="722.9" width="1" height="10.8" fill="#f23645"/>
<rect x="127" y="727.0" width="3" height="6.6" fill="#f23645"/>
<rect x="132" y="731.2" width="1" height="10.5" fill="#f23645"/>
<rect x="131" y="732.1" width="3" height="7.7" fill="#f23645"/>
<rect x="136" y="735.5" width="1" height="7.4" fill="#089981"/>
<rect x="135" y="736.3" width="3" height="3.5" fill="#089981"/>
<rect x="140" y="730.1" width="1" height="15.4" fill="#089981"/>
<rect x="139" y="730.6" width="3" height="7.2" fill="#089981"/>
<rect x="145" y="727.8" width="1" height="4.6" fill="#f23645"/>
<rect x="144" y="730.9" width="3" height="1.5" fill="#f23645"/>
<rect x="149" y="722.0" width="1" height="10.5" fill="#089981"/>
<rect x="148" y="722.0" width="3" height="10.5" fill="#089981"/>
<rect x="153" y="718.9" width="1" height="4.6" fill="#089981"/>
<rect x="152" y="719.8" width="3" height="3.7" fill="#089981"/>
<rect x="157" y="714.7" width="1" height="5.7" fill="#089981"/>
<rect x="156" y="719.3" width="3" height="1.1" fill="#089981"/>
<rect x="162" y="715.8" width="1" height="6.0" fill="#089981"/>
<rect x="161" y="717.7" width="3" height="3.2" fill="#089981"/>
<rect x="166" y="693.3" width="1" height="37.4" fill="#f23645"/>
<rect x="165" y="698.4" width="3" height="32.4" fill="#f23645"/>
<rect x="170" y="730.2" width="1" height="34.6" fill="#f23645"/>
<rect x="169" y="730.2" width="3" height="28.6" fill="#f23645"/>
<rect x="175" y="744.3" width="1" height="14.6" fill="#089981"/>
<rect x="174" y="751.4" width="3" height="7.5" fill="#089981"/>
<rect x="179" y="747.1" width="1" height="13.7" fill="#f23645"/>
<rect x="178" y="751.4" width="3" height="3.2" fill="#f23645"/>
<rect x="183" y="753.6" width="1" height="10.3" fill="#f23645"/>
<rect x="182" y="754.0" width="3" height="3.7" fill="#f23645"/>
<rect x="187" y="748.0" width="1" height="11.6" fill="#f23645"/>
<rect x="186" y="757.0" width="3" height="2.6" fill="#f23645"/>
<rect x="192" y="757.4" width="1" height="8.4" fill="#f23645"/>
<rect x="191" y="758.9" width="3" height="6.9" fill="#f23645"/>
<rect x="196" y="759.2" width="1" height="6.6" fill="#089981"/>
<rect x="195" y="762.0" width="3" height="3.7" fill="#089981"/>
<rect x="200" y="760.2" width="1" height="11.8" fill="#f23645"/>
<rect x="199" y="762.0" width="3" height="6.9" fill="#f23645"/>
<rect x="204" y="762.0" width="1" height="18.7" fill="#f23645"/>
<rect x="203" y="767.7" width="3" height="13.1" fill="#f23645"/>
<rect x="209" y="745.2" width="1" height="42.5" fill="#089981"/>
<rect x="208" y="770.8" width="3" height="9.9" fill="#089981"/>
<rect x="213" y="759.2" width="1" height="12.7" fill="#089981"/>
<rect x="212" y="766.3" width="3" height="5.6" fill="#089981"/>
<rect x="217" y="763.0" width="1" height="14.0" fill="#f23645"/>
<rect x="216" y="765.8" width="3" height="3.7" fill="#f23645"/>
<rect x="222" y="671.2" width="1" height="43.4" fill="#f23645"/>
<rect x="221" y="698.4" width="3" height="16.3" fill="#f23645"/>
<rect x="226" y="713.9" width="1" height="21.9" fill="#f23645"/>
<rect x="225" y="714.3" width="3" height="21.5" fill="#f23645"/>
<rect x="230" y="734.0" width="1" height="26.8" fill="#f23645"/>
<rect x="229" y="734.5" width="3" height="18.2" fill="#f23645"/>
<rect x="234" y="740.9" width="1" height="27.7" fill="#f23645"/>
<rect x="233" y="752.1" width="3" height="4.9" fill="#f23645"/>
<rect x="239" y="740.1" width="1" height="16.9" fill="#089981"/>
<rect x="238" y="740.9" width="3" height="16.1" fill="#089981"/>
<rect x="243" y="723.3" width="1" height="18.7" fill="#089981"/>
<rect x="242" y="730.2" width="3" height="11.8" fill="#089981"/>
<rect x="247" y="730.2" width="1" height="19.7" fill="#f23645"/>
<rect x="246" y="730.2" width="3" height="19.7" fill="#f23645"/>
<rect x="251" y="738.3" width="1" height="22.5" fill="#089981"/>
<rect x="250" y="738.3" width="3" height="11.6" fill="#089981"/>
<rect x="256" y="731.1" width="1" height="12.7" fill="#f23645"/>
<rect x="255" y="738.3" width="3" height="5.6" fill="#f23645"/>
<rect x="260" y="720.9" width="1" height="25.7" fill="#089981"/>
<rect x="259" y="721.8" width="3" height="22.1" fill="#089981"/>
<rect x="264" y="720.9" width="1" height="15.9" fill="#f23645"/>
<rect x="263" y="721.4" width="3" height="15.4" fill="#f23645"/>
<rect x="269" y="723.3" width="1" height="13.5" fill="#089981"/>
<rect x="268" y="724.0" width="3" height="12.7" fill="#089981"/>
<rect x="273" y="710.9" width="1" height="13.7" fill="#089981"/>
<rect x="272" y="710.9" width="3" height="13.7" fill="#089981"/>
<rect x="277" y="733.0" width="1" height="67.0" fill="#f23645"/>
<rect x="276" y="733.0" width="3" height="67.0" fill="#f23645"/>
<rect x="281" y="791.1" width="1" height="13.5" fill="#f23645"/>
<rect x="280" y="800.0" width="3" height="4.5" fill="#f23645"/>
<rect x="286" y="789.2" width="1" height="16.5" fill="#089981"/>
<rect x="285" y="798.9" width="3" height="6.2" fill="#089981"/>
<rect x="290" y="798.2" width="1" height="18.2" fill="#f23645"/>
<rect x="289" y="798.9" width="3" height="16.1" fill="#f23645"/>
<rect x="294" y="807.5" width="1" height="7.5" fill="#089981"/>
<rect x="293" y="809.4" width="3" height="5.1" fill="#089981"/>
<rect x="298" y="806.0" width="1" height="14.6" fill="#f23645"/>
<rect x="297" y="808.8" width="3" height="1.3" fill="#f23645"/>
<rect x="303" y="805.1" width="1" height="10.7" fill="#f23645"/>
<rect x="302" y="809.8" width="3" height="1.0" fill="#f23645"/>
<rect x="307" y="801.4" width="1" height="15.5" fill="#089981"/>
<rect x="306" y="801.4" width="3" height="10.3" fill="#089981"/>
<rect x="311" y="787.7" width="1" height="22.1" fill="#089981"/>
<rect x="310" y="787.7" width="3" height="14.2" fill="#089981"/>
<rect x="315" y="758.9" width="1" height="30.0" fill="#089981"/>
<rect x="314" y="775.1" width="3" height="13.7" fill="#089981"/>
<rect x="320" y="761.1" width="1" height="19.7" fill="#f23645"/>
<rect x="319" y="775.7" width="3" height="1.3" fill="#f23645"/>
<rect x="324" y="773.3" width="1" height="8.4" fill="#089981"/>
<rect x="323" y="774.6" width="3" height="2.4" fill="#089981"/>
<rect x="328" y="755.1" width="1" height="21.0" fill="#089981"/>
<rect x="327" y="757.0" width="3" height="18.7" fill="#089981"/>
<rect x="333" y="692.8" width="1" height="76.2" fill="#089981"/>
<rect x="332" y="739.0" width="3" height="18.0" fill="#089981"/>
<rect x="337" y="703.4" width="1" height="35.6" fill="#089981"/>
<rect x="336" y="705.9" width="3" height="33.1" fill="#089981"/>
<rect x="341" y="693.3" width="1" height="13.5" fill="#089981"/>
<rect x="340" y="697.1" width="3" height="9.7" fill="#089981"/>
<rect x="345" y="691.4" width="1" height="11.2" fill="#089981"/>
<rect x="344" y="692.8" width="3" height="5.1" fill="#089981"/>
<rect x="350" y="692.8" width="1" height="9.9" fill="#f23645"/>
<rect x="349" y="693.3" width="3" height="2.6" fill="#f23645"/>
<rect x="354" y="686.2" width="1" height="9.7" fill="#089981"/>
<rect x="353" y="687.7" width="3" height="8.2" fill="#089981"/>
<rect x="358" y="687.7" width="1" height="6.9" fill="#f23645"/>
<rect x="357" y="688.1" width="3" height="6.6" fill="#f23645"/>
<rect x="362" y="692.8" width="1" height="8.8" fill="#f23645"/>
<rect x="361" y="692.8" width="3" height="8.8" fill="#f23645"/>
<rect x="367" y="693.3" width="1" height="8.2" fill="#089981"/>
<rect x="366" y="697.8" width="3" height="3.7" fill="#089981"/>
<rect x="371" y="693.3" width="1" height="5.6" fill="#089981"/>
<rect x="370" y="697.1" width="3" height="1.3" fill="#089981"/>
<rect x="375" y="691.4" width="1" height="13.1" fill="#f23645"/>
<rect x="374" y="697.1" width="3" height="3.7" fill="#f23645"/>
<rect x="380" y="695.2" width="1" height="7.5" fill="#f23645"/>
<rect x="379" y="698.9" width="3" height="3.2" fill="#f23645"/>
<rect x="384" y="700.2" width="1" height="8.4" fill="#f23645"/>
<rect x="383" y="701.5" width="3" height="6.7" fill="#f23645"/>
<rect x="430.00" y="699.00" width="56.00" height="17.00" fill="#f23645" rx="2" />
<text x="480.5" y="707.5" font-size="12" fill="#fff" font-weight="normal" text-anchor="end" dominant-baseline="central" stroke="#fff" stroke-width="0.3">433.000</text>
<rect x="890.00" y="680.00" width="42.70" height="201.00" fill="rgba(76,175,80,0.08)" rx="0" />
<line x1="511.00" y1="842.70" x2="1460.00" y2="842.70" stroke="#efefef" stroke-width="1" />
<line x1="511.00" y1="716.60" x2="1460.00" y2="716.60" stroke="#efefef" stroke-width="1" />
<line x1="511.00" y1="800.10" x2="1460.00" y2="800.10" stroke="#efefef" stroke-width="1" />
<line x1="511.00" y1="700.46" x2="1420.00" y2="700.46" stroke="#f7a1a8" stroke-width="1.5" />
<line x1="511.00" y1="717.10" x2="1420.00" y2="717.10" stroke="#9598a1" stroke-width="1.5" />
<line x1="511.00" y1="737.90" x2="1420.00" y2="737.90" stroke="#ffb74d" stroke-width="1.2" />
<line x1="511.00" y1="758.70" x2="1420.00" y2="758.70" stroke="#787b86" stroke-width="1.5" />
<line x1="511.00" y1="779.50" x2="1420.00" y2="779.50" stroke="#ffb74d" stroke-width="1.2" />
<line x1="511.00" y1="800.30" x2="1420.00" y2="800.30" stroke="#787b86" stroke-width="1.5" />
<line x1="511.00" y1="816.94" x2="1420.00" y2="816.94" stroke="#81c784" stroke-width="1.5" />
<rect x="513" y="758.7" width="1.6" height="7.7" fill="#f7a1a8"/>
<rect x="517" y="758.7" width="1.6" height="9.6" fill="#f7a1a8"/>
<rect x="521" y="758.7" width="1.6" height="8.7" fill="#f7a1a8"/>
<rect x="525" y="758.7" width="1.6" height="8.3" fill="#f7a1a8"/>
<rect x="529" y="758.7" width="1.6" height="5.7" fill="#f7a1a8"/>
<rect x="533" y="758.7" width="1.6" height="5.0" fill="#f7a1a8"/>
<rect x="537" y="758.7" width="1.6" height="3.0" fill="#f7a1a8"/>
<rect x="541" y="755.1" width="1.6" height="3.6" fill="#a5d6a7"/>
<rect x="545" y="747.9" width="1.6" height="10.8" fill="#a5d6a7"/>
<rect x="549" y="747.2" width="1.6" height="11.5" fill="#a5d6a7"/>
<rect x="553" y="745.2" width="1.6" height="13.5" fill="#a5d6a7"/>
<rect x="557" y="743.2" width="1.6" height="15.5" fill="#a5d6a7"/>
<rect x="560" y="741.0" width="1.6" height="17.7" fill="#a5d6a7"/>
<rect x="564" y="741.3" width="1.6" height="17.4" fill="#a5d6a7"/>
<rect x="568" y="741.6" width="1.6" height="17.1" fill="#a5d6a7"/>
<rect x="572" y="741.9" width="1.6" height="16.8" fill="#a5d6a7"/>
<rect x="576" y="743.2" width="1.6" height="15.5" fill="#a5d6a7"/>
<rect x="580" y="743.2" width="1.6" height="15.5" fill="#a5d6a7"/>
<rect x="584" y="744.2" width="1.6" height="14.5" fill="#a5d6a7"/>
<rect x="588" y="749.2" width="1.6" height="9.5" fill="#a5d6a7"/>
<rect x="592" y="751.2" width="1.6" height="7.5" fill="#a5d6a7"/>
<rect x="596" y="758.7" width="1.6" height="1.1" fill="#f7a1a8"/>
<rect x="600" y="758.7" width="1.6" height="2.1" fill="#f7a1a8"/>
<rect x="604" y="758.7" width="1.6" height="3.0" fill="#f7a1a8"/>
<rect x="608" y="758.7" width="1.6" height="4.0" fill="#f7a1a8"/>
<rect x="612" y="758.7" width="1.6" height="3.0" fill="#f7a1a8"/>
<rect x="616" y="758.7" width="1.6" height="2.1" fill="#f7a1a8"/>
<rect x="620" y="758.7" width="1.6" height="2.0" fill="#f7a1a8"/>
<rect x="623" y="758.7" width="1.6" height="1.1" fill="#f7a1a8"/>
<rect x="627" y="758.7" width="1.6" height="0.7" fill="#f7a1a8"/>
<rect x="631" y="757.1" width="1.6" height="1.6" fill="#a5d6a7"/>
<rect x="635" y="756.1" width="1.6" height="2.6" fill="#a5d6a7"/>
<rect x="639" y="757.4" width="1.6" height="1.3" fill="#a5d6a7"/>
<rect x="643" y="758.2" width="1.6" height="0.5" fill="#a5d6a7"/>
<rect x="647" y="758.7" width="1.6" height="0.0" fill="#a5d6a7"/>
<rect x="651" y="758.7" width="1.6" height="5.0" fill="#f7a1a8"/>
<rect x="655" y="758.7" width="1.6" height="12.9" fill="#f7a1a8"/>
<rect x="659" y="758.7" width="1.6" height="14.0" fill="#f7a1a8"/>
<rect x="663" y="758.7" width="1.6" height="14.3" fill="#f7a1a8"/>
<rect x="667" y="758.7" width="1.6" height="11.0" fill="#f7a1a8"/>
<rect x="671" y="758.7" width="1.6" height="9.0" fill="#f7a1a8"/>
<rect x="675" y="758.7" width="1.6" height="11.9" fill="#f7a1a8"/>
<rect x="679" y="758.7" width="1.6" height="12.7" fill="#f7a1a8"/>
<rect x="682" y="758.7" width="1.6" height="12.9" fill="#f7a1a8"/>
<rect x="686" y="758.7" width="1.6" height="12.3" fill="#f7a1a8"/>
<rect x="690" y="758.7" width="1.6" height="11.9" fill="#f7a1a8"/>
<rect x="694" y="758.7" width="1.6" height="12.9" fill="#f7a1a8"/>
<rect x="698" y="758.7" width="1.6" height="9.6" fill="#f7a1a8"/>
<rect x="702" y="758.7" width="1.6" height="9.0" fill="#f7a1a8"/>
<rect x="706" y="758.7" width="1.6" height="12.9" fill="#f7a1a8"/>
<rect x="710" y="758.7" width="1.6" height="16.9" fill="#f7a1a8"/>
<rect x="714" y="758.7" width="1.6" height="20.6" fill="#f7a1a8"/>
<rect x="718" y="758.7" width="1.6" height="20.2" fill="#f7a1a8"/>
<rect x="722" y="758.7" width="1.6" height="20.2" fill="#f7a1a8"/>
<rect x="726" y="758.7" width="1.6" height="20.2" fill="#f7a1a8"/>
<rect x="730" y="758.7" width="1.6" height="18.9" fill="#f7a1a8"/>
<rect x="734" y="758.7" width="1.6" height="15.9" fill="#f7a1a8"/>
<rect x="738" y="758.7" width="1.6" height="11.0" fill="#f7a1a8"/>
<rect x="742" y="758.7" width="1.6" height="9.0" fill="#f7a1a8"/>
<rect x="745" y="758.7" width="1.6" height="5.7" fill="#f7a1a8"/>
<rect x="749" y="758.7" width="1.6" height="1.1" fill="#f7a1a8"/>
<rect x="753" y="753.1" width="1.6" height="5.6" fill="#a5d6a7"/>
<rect x="757" y="751.2" width="1.6" height="7.5" fill="#a5d6a7"/>
<rect x="761" y="741.3" width="1.6" height="17.4" fill="#a5d6a7"/>
<rect x="765" y="736.6" width="1.6" height="22.1" fill="#a5d6a7"/>
<rect x="769" y="733.3" width="1.6" height="25.4" fill="#a5d6a7"/>
<rect x="773" y="732.3" width="1.6" height="26.4" fill="#a5d6a7"/>
<rect x="777" y="731.3" width="1.6" height="27.4" fill="#a5d6a7"/>
<rect x="781" y="734.4" width="1.6" height="24.3" fill="#a5d6a7"/>
<rect x="785" y="737.3" width="1.6" height="21.4" fill="#a5d6a7"/>
<rect x="789" y="739.3" width="1.6" height="19.4" fill="#a5d6a7"/>
<rect x="793" y="741.3" width="1.6" height="17.4" fill="#a5d6a7"/>
<rect x="797" y="745.2" width="1.6" height="13.5" fill="#a5d6a7"/>
<rect x="801" y="751.2" width="1.6" height="7.5" fill="#a5d6a7"/>
<rect x="805" y="757.1" width="1.6" height="1.6" fill="#a5d6a7"/>
<rect x="808" y="758.7" width="1.6" height="3.0" fill="#f7a1a8"/>
<rect x="812" y="758.7" width="1.6" height="5.0" fill="#f7a1a8"/>
<rect x="816" y="758.7" width="1.6" height="5.7" fill="#f7a1a8"/>
<rect x="820" y="758.7" width="1.6" height="7.7" fill="#f7a1a8"/>
<rect x="824" y="758.7" width="1.6" height="8.3" fill="#f7a1a8"/>
<rect x="828" y="758.7" width="1.6" height="6.1" fill="#f7a1a8"/>
<rect x="832" y="758.7" width="1.6" height="5.0" fill="#f7a1a8"/>
<rect x="836" y="758.7" width="1.6" height="4.0" fill="#f7a1a8"/>
<rect x="840" y="758.7" width="1.6" height="5.0" fill="#f7a1a8"/>
<rect x="844" y="758.7" width="1.6" height="3.0" fill="#f7a1a8"/>
<rect x="848" y="758.7" width="1.6" height="2.4" fill="#f7a1a8"/>
<rect x="852" y="758.7" width="1.6" height="2.1" fill="#f7a1a8"/>
<rect x="856" y="758.7" width="1.6" height="2.1" fill="#f7a1a8"/>
<rect x="860" y="758.7" width="1.6" height="2.1" fill="#f7a1a8"/>
<rect x="864" y="758.7" width="1.6" height="3.1" fill="#f7a1a8"/>
<rect x="867" y="758.7" width="1.6" height="10.3" fill="#f7a1a8"/>
<rect x="871" y="758.7" width="1.6" height="23.9" fill="#f7a1a8"/>
<rect x="875" y="758.7" width="1.6" height="25.8" fill="#f7a1a8"/>
<rect x="879" y="758.7" width="1.6" height="27.6" fill="#f7a1a8"/>
<rect x="883" y="758.7" width="1.6" height="26.3" fill="#f7a1a8"/>
<rect x="887" y="758.7" width="1.6" height="25.8" fill="#f7a1a8"/>
<rect x="891" y="758.7" width="1.6" height="26.3" fill="#f7a1a8"/>
<rect x="895" y="758.7" width="1.6" height="25.8" fill="#f7a1a8"/>
<rect x="899" y="758.7" width="1.6" height="25.8" fill="#f7a1a8"/>
<rect x="903" y="758.7" width="1.6" height="25.8" fill="#f7a1a8"/>
<rect x="907" y="758.7" width="1.6" height="25.2" fill="#f7a1a8"/>
<rect x="911" y="758.7" width="1.6" height="25.2" fill="#f7a1a8"/>
<rect x="915" y="758.7" width="1.6" height="23.9" fill="#f7a1a8"/>
<rect x="919" y="758.7" width="1.6" height="21.2" fill="#f7a1a8"/>
<rect x="923" y="758.7" width="1.6" height="20.3" fill="#f7a1a8"/>
<rect x="927" y="758.7" width="1.6" height="0.0" fill="#a5d6a7"/>
<rect x="930" y="749.9" width="1.6" height="8.8" fill="#a5d6a7"/>
<rect x="934" y="740.9" width="1.6" height="17.8" fill="#a5d6a7"/>
<rect x="938" y="737.2" width="1.6" height="21.5" fill="#a5d6a7"/>
<rect x="942" y="739.0" width="1.6" height="19.7" fill="#a5d6a7"/>
<rect x="946" y="743.2" width="1.6" height="15.5" fill="#a5d6a7"/>
<rect x="950" y="744.5" width="1.6" height="14.2" fill="#a5d6a7"/>
<rect x="954" y="746.3" width="1.6" height="12.4" fill="#a5d6a7"/>
<rect x="958" y="746.3" width="1.6" height="12.4" fill="#a5d6a7"/>
<rect x="962" y="740.3" width="1.6" height="18.4" fill="#a5d6a7"/>
<rect x="966" y="732.3" width="1.6" height="26.4" fill="#a5d6a7"/>
<rect x="970" y="733.6" width="1.6" height="25.1" fill="#a5d6a7"/>
<rect x="974" y="735.4" width="1.6" height="23.3" fill="#a5d6a7"/>
<rect x="978" y="737.2" width="1.6" height="21.5" fill="#a5d6a7"/>
<rect x="982" y="737.2" width="1.6" height="21.5" fill="#a5d6a7"/>
<rect x="986" y="735.4" width="1.6" height="23.3" fill="#a5d6a7"/>
<rect x="990" y="736.3" width="1.6" height="22.4" fill="#a5d6a7"/>
<rect x="993" y="738.1" width="1.6" height="20.6" fill="#a5d6a7"/>
<rect x="997" y="736.3" width="1.6" height="22.4" fill="#a5d6a7"/>
<rect x="1001" y="737.2" width="1.6" height="21.5" fill="#a5d6a7"/>
<rect x="1005" y="738.1" width="1.6" height="20.6" fill="#a5d6a7"/>
<rect x="1009" y="740.9" width="1.6" height="17.8" fill="#a5d6a7"/>
<rect x="1013" y="742.7" width="1.6" height="16.0" fill="#a5d6a7"/>
<rect x="1017" y="745.4" width="1.6" height="13.3" fill="#a5d6a7"/>
<rect x="1021" y="750.2" width="1.6" height="8.5" fill="#a5d6a7"/>
<rect x="1025" y="755.1" width="1.6" height="3.6" fill="#a5d6a7"/>
<rect x="1029" y="757.1" width="1.6" height="1.6" fill="#a5d6a7"/>
<rect x="1033" y="758.4" width="1.6" height="0.3" fill="#a5d6a7"/>
<rect x="1037" y="758.7" width="1.6" height="1.7" fill="#f7a1a8"/>
<rect x="1041" y="758.7" width="1.6" height="3.0" fill="#f7a1a8"/>
<rect x="1045" y="758.7" width="1.6" height="1.1" fill="#f7a1a8"/>
<rect x="1049" y="758.7" width="1.6" height="1.1" fill="#f7a1a8"/>
<rect x="1052" y="758.7" width="1.6" height="2.0" fill="#f7a1a8"/>
<rect x="1056" y="758.7" width="1.6" height="2.0" fill="#f7a1a8"/>
<rect x="1060" y="758.7" width="1.6" height="6.1" fill="#f7a1a8"/>
<rect x="1064" y="758.7" width="1.6" height="7.0" fill="#f7a1a8"/>
<rect x="1068" y="758.7" width="1.6" height="7.0" fill="#f7a1a8"/>
<rect x="1072" y="758.7" width="1.6" height="6.1" fill="#f7a1a8"/>
<rect x="1076" y="758.7" width="1.6" height="5.0" fill="#f7a1a8"/>
<rect x="1080" y="758.7" width="1.6" height="6.1" fill="#f7a1a8"/>
<rect x="1084" y="758.7" width="1.6" height="6.1" fill="#f7a1a8"/>
<rect x="1088" y="758.7" width="1.6" height="5.0" fill="#f7a1a8"/>
<rect x="1092" y="758.4" width="1.6" height="0.3" fill="#a5d6a7"/>
<rect x="1096" y="755.1" width="1.6" height="3.6" fill="#a5d6a7"/>
<rect x="1100" y="751.8" width="1.6" height="6.9" fill="#a5d6a7"/>
<rect x="1104" y="749.8" width="1.6" height="8.9" fill="#a5d6a7"/>
<rect x="1108" y="748.9" width="1.6" height="9.8" fill="#a5d6a7"/>
<rect x="1112" y="748.1" width="1.6" height="10.6" fill="#a5d6a7"/>
<rect x="1115" y="748.9" width="1.6" height="9.8" fill="#a5d6a7"/>
<rect x="1119" y="749.2" width="1.6" height="9.5" fill="#a5d6a7"/>
<rect x="1123" y="749.8" width="1.6" height="8.9" fill="#a5d6a7"/>
<rect x="1127" y="751.2" width="1.6" height="7.5" fill="#a5d6a7"/>
<rect x="1131" y="752.1" width="1.6" height="6.6" fill="#a5d6a7"/>
<rect x="1135" y="754.2" width="1.6" height="4.5" fill="#a5d6a7"/>
<rect x="1139" y="758.2" width="1.6" height="0.5" fill="#a5d6a7"/>
<rect x="1143" y="758.7" width="1.6" height="2.1" fill="#f7a1a8"/>
<rect x="1147" y="758.4" width="1.6" height="0.3" fill="#a5d6a7"/>
<rect x="1151" y="757.1" width="1.6" height="1.6" fill="#a5d6a7"/>
<rect x="1155" y="754.2" width="1.6" height="4.5" fill="#a5d6a7"/>
<rect x="1159" y="752.1" width="1.6" height="6.6" fill="#a5d6a7"/>
<rect x="1163" y="751.2" width="1.6" height="7.5" fill="#a5d6a7"/>
<rect x="1167" y="752.1" width="1.6" height="6.6" fill="#a5d6a7"/>
<rect x="1171" y="754.2" width="1.6" height="4.5" fill="#a5d6a7"/>
<rect x="1174" y="756.1" width="1.6" height="2.6" fill="#a5d6a7"/>
<rect x="1178" y="756.1" width="1.6" height="2.6" fill="#a5d6a7"/>
<rect x="1182" y="757.8" width="1.6" height="0.9" fill="#a5d6a7"/>
<rect x="1186" y="757.1" width="1.6" height="1.6" fill="#a5d6a7"/>
<rect x="1190" y="758.4" width="1.6" height="0.3" fill="#a5d6a7"/>
<rect x="1194" y="758.7" width="1.6" height="3.0" fill="#f7a1a8"/>
<rect x="1198" y="758.7" width="1.6" height="4.0" fill="#f7a1a8"/>
<rect x="1202" y="758.7" width="1.6" height="4.0" fill="#f7a1a8"/>
<rect x="1206" y="758.7" width="1.6" height="4.0" fill="#f7a1a8"/>
<rect x="1210" y="758.7" width="1.6" height="7.0" fill="#f7a1a8"/>
<rect x="1214" y="758.7" width="1.6" height="7.0" fill="#f7a1a8"/>
<rect x="1218" y="758.7" width="1.6" height="11.9" fill="#f7a1a8"/>
<rect x="1222" y="758.7" width="1.6" height="12.7" fill="#f7a1a8"/>
<rect x="1226" y="758.7" width="1.6" height="14.0" fill="#f7a1a8"/>
<rect x="1230" y="758.7" width="1.6" height="12.9" fill="#f7a1a8"/>
<rect x="1234" y="758.7" width="1.6" height="11.9" fill="#f7a1a8"/>
<rect x="1237" y="758.7" width="1.6" height="14.0" fill="#f7a1a8"/>
<rect x="1241" y="758.7" width="1.6" height="12.7" fill="#f7a1a8"/>
<rect x="1245" y="758.7" width="1.6" height="11.0" fill="#f7a1a8"/>
<rect x="1249" y="758.7" width="1.6" height="9.0" fill="#f7a1a8"/>
<rect x="1253" y="758.7" width="1.6" height="7.0" fill="#f7a1a8"/>
<rect x="1257" y="758.7" width="1.6" height="15.9" fill="#f7a1a8"/>
<rect x="1261" y="758.7" width="1.6" height="23.3" fill="#f7a1a8"/>
<rect x="1265" y="758.7" width="1.6" height="30.8" fill="#f7a1a8"/>
<rect x="1269" y="758.7" width="1.6" height="30.8" fill="#f7a1a8"/>
<rect x="1273" y="758.7" width="1.6" height="27.7" fill="#f7a1a8"/>
<rect x="1277" y="758.7" width="1.6" height="22.9" fill="#f7a1a8"/>
<rect x="1281" y="758.7" width="1.6" height="16.9" fill="#f7a1a8"/>
<rect x="1285" y="758.7" width="1.6" height="11.0" fill="#f7a1a8"/>
<rect x="1289" y="758.7" width="1.6" height="7.0" fill="#f7a1a8"/>
<rect x="1293" y="758.7" width="1.6" height="2.1" fill="#f7a1a8"/>
<rect x="1297" y="758.2" width="1.6" height="0.5" fill="#a5d6a7"/>
<rect x="1300" y="756.1" width="1.6" height="2.6" fill="#a5d6a7"/>
<rect x="1304" y="748.9" width="1.6" height="9.8" fill="#a5d6a7"/>
<rect x="1308" y="745.9" width="1.6" height="12.8" fill="#a5d6a7"/>
<rect x="1312" y="747.9" width="1.6" height="10.8" fill="#a5d6a7"/>
<rect x="1316" y="751.2" width="1.6" height="7.5" fill="#a5d6a7"/>
<rect x="1320" y="751.2" width="1.6" height="7.5" fill="#a5d6a7"/>
<rect x="1324" y="754.2" width="1.6" height="4.5" fill="#a5d6a7"/>
<rect x="1328" y="756.1" width="1.6" height="2.6" fill="#a5d6a7"/>
<rect x="1332" y="756.1" width="1.6" height="2.6" fill="#a5d6a7"/>
<rect x="1336" y="758.7" width="1.6" height="2.0" fill="#f7a1a8"/>
<rect x="1340" y="758.7" width="1.6" height="3.0" fill="#f7a1a8"/>
<rect x="1344" y="758.2" width="1.6" height="0.5" fill="#a5d6a7"/>
<rect x="1348" y="757.4" width="1.6" height="1.3" fill="#a5d6a7"/>
<rect x="1352" y="758.2" width="1.6" height="0.5" fill="#a5d6a7"/>
<rect x="1356" y="758.4" width="1.6" height="0.3" fill="#a5d6a7"/>
<rect x="1359" y="757.4" width="1.6" height="1.3" fill="#a5d6a7"/>
<rect x="1363" y="756.1" width="1.6" height="2.6" fill="#a5d6a7"/>
<rect x="1367" y="753.1" width="1.6" height="5.6" fill="#a5d6a7"/>
<rect x="1371" y="749.2" width="1.6" height="9.5" fill="#a5d6a7"/>
<rect x="1375" y="747.2" width="1.6" height="11.5" fill="#a5d6a7"/>
<rect x="1379" y="745.9" width="1.6" height="12.8" fill="#a5d6a7"/>
<rect x="1383" y="745.2" width="1.6" height="13.5" fill="#a5d6a7"/>
<rect x="1387" y="744.2" width="1.6" height="14.5" fill="#a5d6a7"/>
<rect x="1391" y="744.2" width="1.6" height="14.5" fill="#a5d6a7"/>
<rect x="1395" y="745.0" width="1.6" height="13.7" fill="#a5d6a7"/>
<rect x="1399" y="745.9" width="1.6" height="12.8" fill="#a5d6a7"/>
<rect x="1403" y="745.9" width="1.6" height="12.8" fill="#a5d6a7"/>
<rect x="1407" y="750.2" width="1.6" height="8.5" fill="#a5d6a7"/>
<rect x="1411" y="752.1" width="1.6" height="6.6" fill="#a5d6a7"/>
<rect x="1415" y="755.1" width="1.6" height="3.6" fill="#a5d6a7"/>
<rect x="1419" y="756.1" width="1.6" height="2.6" fill="#a5d6a7"/>
<polyline points="511.0,759.1 517.6,762.4 524.2,766.4 530.8,768.3 537.4,769.7 541.4,769.0 548.0,763.7 553.3,759.8 559.9,750.5 566.5,742.6 573.1,734.6 581.0,727.4 587.6,723.4 591.6,722.1 595.6,722.1 603.5,723.0 611.4,724.7 619.4,726.1 627.3,724.7 635.2,723.4 643.2,722.8 649.8,723.8 656.4,729.6 663.0,734.6 669.6,738.6 676.2,743.9 682.8,749.2 691.0,755.1" fill="none" stroke="#787b86" stroke-width="1" stroke-linejoin="round" stroke-linecap="round" />
<polyline points="681.0,746.5 685.0,749.2 690.3,753.1 694.2,756.5 700.8,759.8 704.8,762.4 710.1,767.7 715.4,774.3 720.6,780.9 725.9,787.5 731.2,792.8 736.5,796.8 741.8,799.4 747.1,800.7 752.4,800.1 756.3,797.4 760.3,792.1 764.3,786.2 768.2,779.6 772.2,773.0 776.1,766.4 780.1,760.4 784.1,755.1 788.0,750.5 792.0,746.3 796.0,743.2 799.9,741.5 803.9,741.0 807.9,741.5 811.8,742.8 817.1,745.2 821.1,747.2 825.0,748.8 829.0,749.8 834.3,751.2 839.6,752.1 846.2,752.8 852.8,753.5 861.0,754.5" fill="none" stroke="#787b86" stroke-width="1" stroke-linejoin="round" stroke-linecap="round" />
<polyline points="851.0,753.6 858.3,753.8 863.7,755.4 869.2,758.1 874.6,770.8 881.9,783.5 889.1,796.3 898.2,810.8 905.5,823.5 912.8,832.6 920.0,840.8 923.6,841.7 926.4,840.8 930.9,834.4 936.4,827.1 941.8,820.8 947.3,816.2 954.5,810.8 960.0,805.3 965.4,797.2 970.9,789.0 978.1,779.0 985.4,768.1 992.7,757.2 999.9,747.2 1007.2,737.2 1014.5,730.0 1019.9,727.2 1025.4,726.5 1031.0,726.5" fill="none" stroke="#787b86" stroke-width="1" stroke-linejoin="round" stroke-linecap="round" />
<polyline points="1021.0,728.0 1026.3,726.7 1031.6,726.5 1038.2,727.4 1044.8,727.8 1051.4,728.0 1056.7,729.1 1063.3,731.7 1069.9,734.0 1076.5,736.0 1083.1,737.9 1089.7,739.3 1096.3,737.9 1102.9,734.0 1110.9,728.7 1118.8,723.4 1126.7,719.8 1134.7,717.7 1142.6,717.2 1150.5,716.1 1158.4,713.5 1166.4,710.6 1174.3,708.5 1182.2,708.0 1188.8,707.6 1194.1,708.2 1201.0,709.5" fill="none" stroke="#787b86" stroke-width="1" stroke-linejoin="round" stroke-linecap="round" />
<polyline points="1191.0,707.6 1197.6,708.9 1204.2,710.2 1210.8,712.8 1217.4,717.5 1224.0,723.4 1230.6,728.7 1237.3,734.0 1243.9,738.6 1250.5,741.3 1254.4,743.9 1258.4,749.2 1262.4,755.8 1266.3,765.0 1270.3,771.6 1274.3,777.6 1278.2,782.2 1283.5,785.5 1288.8,787.2 1294.1,787.2 1300.7,786.2 1306.0,780.9 1311.3,777.6 1317.9,774.7 1324.5,773.0 1331.1,772.0 1337.7,771.6 1344.3,771.4 1350.9,771.4 1357.5,771.0 1364.1,769.7 1371.0,766.4" fill="none" stroke="#787b86" stroke-width="1" stroke-linejoin="round" stroke-linecap="round" />
<polyline points="1341.0,773.0 1346.3,771.9 1351.6,771.6 1356.9,771.4 1362.1,770.6 1367.4,768.3 1372.7,764.4 1378.0,759.8 1383.3,754.5 1388.6,749.4 1393.9,744.6 1399.1,740.6 1404.4,737.6 1409.7,736.0 1415.0,734.9 1419.9,734.4" fill="none" stroke="#787b86" stroke-width="1" stroke-linejoin="round" stroke-linecap="round" />
<polyline points="511.0,769.0 517.7,771.0 521.6,773.0 525.5,774.7 529.5,773.6 533.5,772.7 537.4,771.9 541.4,762.4 544.0,755.1 549.3,750.5 554.6,743.9 559.9,734.6 563.9,729.6 569.1,725.7 573.1,722.1 578.4,716.8 583.7,712.6 587.6,714.2 591.6,715.1 595.6,721.4 599.5,724.3 603.5,726.5 607.5,727.2 611.4,727.0 615.4,727.0 619.4,726.7 623.3,725.7 627.3,724.1 631.3,722.8 635.2,720.8 639.2,721.4 643.2,722.8 647.1,723.8 651.1,729.4 655.0,739.9 659.0,743.9 663.0,748.5 666.9,747.6 670.9,747.9 674.9,751.8 678.8,756.1 682.8,759.1 686.8,763.1 691.0,765.7" fill="none" stroke="#4caf50" stroke-width="2.6" stroke-linejoin="round" stroke-linecap="round" />
<polyline points="686.3,763.7 690.3,766.4 694.2,769.7 698.2,767.0 701.9,764.8" fill="none" stroke="#4caf50" stroke-width="2.6" stroke-linejoin="round" stroke-linecap="round" />
<polyline points="701.9,764.8 706.1,774.3 710.1,782.9 714.0,792.8" fill="none" stroke="#f23645" stroke-width="2.6" stroke-linejoin="round" stroke-linecap="round" />
<polyline points="714.0,792.8 717.6,794.4" fill="none" stroke="#4caf50" stroke-width="2.6" stroke-linejoin="round" stroke-linecap="round" />
<polyline points="717.6,794.4 722.0,800.7 725.9,805.3 729.9,809.3 733.2,810.2 737.8,808.0 741.8,807.3 745.8,806.7" fill="none" stroke="#f23645" stroke-width="2.6" stroke-linejoin="round" stroke-linecap="round" />
<polyline points="745.8,806.7 749.7,800.7 753.0,795.4 757.0,790.1 760.3,779.6 764.3,769.0 768.2,758.4 772.2,750.5 776.1,743.9 780.1,738.6 784.1,735.3 788.0,732.0 793.3,728.7 797.3,730.0 801.3,734.0 805.2,740.6 809.2,744.6 813.2,747.9 817.1,751.2 821.1,753.8 824.4,755.1 829.0,754.5 834.3,754.2 838.3,755.5 840.9,756.1 844.9,755.1 848.8,755.1 852.8,755.8 856.8,756.1 861.0,756.5" fill="none" stroke="#4caf50" stroke-width="2.6" stroke-linejoin="round" stroke-linecap="round" />
<polyline points="851.0,755.9 856.4,755.4 861.0,756.7 864.6,759.0 867.9,760.7" fill="none" stroke="#4caf50" stroke-width="2.6" stroke-linejoin="round" stroke-linecap="round" />
<polyline points="867.9,760.7 871.0,779.9 874.6,792.6 879.2,803.5 883.7,809.9 889.1,816.2 895.5,827.1 900.0,834.4 905.5,842.6 910.9,850.7 916.4,856.2 922.4,860.2 924.6,850.7 927.3,839.8 930.9,829.0 934.5,818.1 937.8,809.0 941.8,805.3 946.4,804.1 951.8,801.7 957.2,799.0 961.4,788.1" fill="none" stroke="#f23645" stroke-width="2.6" stroke-linejoin="round" stroke-linecap="round" />
<polyline points="961.4,788.1 965.4,773.6" fill="none" stroke="#4caf50" stroke-width="2.6" stroke-linejoin="round" stroke-linecap="round" />
<polyline points="965.4,773.6 969.1,768.1 972.7,764.5 978.1,759.9" fill="none" stroke="#f23645" stroke-width="2.6" stroke-linejoin="round" stroke-linecap="round" />
<polyline points="978.1,759.9 981.8,752.7 985.4,747.2 990.8,740.9 996.3,734.5 1001.7,728.2 1006.3,721.4 1010.8,718.5 1016.3,716.7 1019.0,718.2" fill="none" stroke="#4caf50" stroke-width="2.6" stroke-linejoin="round" stroke-linecap="round" />
<polyline points="1019.0,718.2 1024.4,722.7" fill="none" stroke="#f23645" stroke-width="2.6" stroke-linejoin="round" stroke-linecap="round" />
<polyline points="1024.4,722.7 1031.0,725.4" fill="none" stroke="#4caf50" stroke-width="2.6" stroke-linejoin="round" stroke-linecap="round" />
<polyline points="1021.0,718.8 1024.3,722.8" fill="none" stroke="#f23645" stroke-width="2.6" stroke-linejoin="round" stroke-linecap="round" />
<polyline points="1024.3,722.8 1028.9,725.1 1034.2,727.0 1040.2,729.6 1044.8,728.3 1048.8,728.0 1052.7,729.1 1056.4,729.5" fill="none" stroke="#4caf50" stroke-width="2.6" stroke-linejoin="round" stroke-linecap="round" />
<polyline points="1056.4,729.5 1060.4,734.6" fill="none" stroke="#f23645" stroke-width="2.6" stroke-linejoin="round" stroke-linecap="round" />
<polyline points="1060.4,734.6 1064.6,737.6 1068.6,739.3 1073.9,739.7 1077.8,741.3 1083.1,743.2 1087.7,743.9 1091.0,739.3 1096.3,733.3 1100.3,728.7 1105.6,723.4 1112.2,718.5 1118.8,715.5 1126.7,712.8 1134.7,712.4 1138.6,715.5 1142.6,718.5 1146.5,716.8 1150.5,715.9 1154.5,712.2 1159.8,707.6 1166.4,704.5 1174.3,706.6 1182.2,706.2 1187.5,706.9 1191.5,708.2 1195.4,711.1 1201.0,712.8" fill="none" stroke="#4caf50" stroke-width="2.6" stroke-linejoin="round" stroke-linecap="round" />
<polyline points="1191.0,707.6 1196.3,711.5 1201.6,712.8 1206.2,714.2 1210.2,718.8 1214.1,720.8 1217.4,727.4 1221.4,732.7 1225.4,736.6 1229.3,738.9 1233.3,741.0 1237.3,745.9 1241.2,748.5 1246.5,748.5 1253.1,748.5 1255.8,755.8 1257.1,759.5" fill="none" stroke="#4caf50" stroke-width="2.6" stroke-linejoin="round" stroke-linecap="round" />
<polyline points="1257.1,759.5 1261.0,773.0 1265.0,791.5 1269.0,797.4 1272.7,801.8" fill="none" stroke="#f23645" stroke-width="2.6" stroke-linejoin="round" stroke-linecap="round" />
<polyline points="1272.7,801.8 1276.6,797.8" fill="none" stroke="#4caf50" stroke-width="2.6" stroke-linejoin="round" stroke-linecap="round" />
<polyline points="1276.6,797.8 1280.9,799.4" fill="none" stroke="#f23645" stroke-width="2.6" stroke-linejoin="round" stroke-linecap="round" />
<polyline points="1280.9,799.4 1284.8,794.8 1288.8,792.8 1292.8,788.2 1296.7,786.2 1300.7,783.5 1304.7,774.3 1308.6,767.4 1312.6,767.0 1316.5,767.7 1321.2,766.4" fill="none" stroke="#4caf50" stroke-width="2.6" stroke-linejoin="round" stroke-linecap="round" />
<polyline points="1321.2,766.4 1323.2,767.4 1327.1,768.7 1331.1,769.0 1335.0,772.3 1339.3,774.3" fill="none" stroke="#f23645" stroke-width="2.6" stroke-linejoin="round" stroke-linecap="round" />
<polyline points="1339.3,774.3 1344.3,771.6 1346.3,770.6" fill="none" stroke="#4caf50" stroke-width="2.6" stroke-linejoin="round" stroke-linecap="round" />
<polyline points="1346.3,770.6 1350.9,770.6 1355.5,771.4" fill="none" stroke="#f23645" stroke-width="2.6" stroke-linejoin="round" stroke-linecap="round" />
<polyline points="1355.5,771.4 1360.2,769.0 1364.1,767.0 1368.1,763.1 1371.0,757.1" fill="none" stroke="#4caf50" stroke-width="2.6" stroke-linejoin="round" stroke-linecap="round" />
<polyline points="1341.0,774.3 1346.9,770.6" fill="none" stroke="#4caf50" stroke-width="2.6" stroke-linejoin="round" stroke-linecap="round" />
<polyline points="1346.9,770.3 1350.9,770.6 1354.9,771.4" fill="none" stroke="#f23645" stroke-width="2.6" stroke-linejoin="round" stroke-linecap="round" />
<polyline points="1354.9,771.4 1359.5,768.3 1364.1,766.4 1367.4,763.7 1371.4,758.4 1375.4,753.1 1379.3,747.9 1384.6,741.9 1390.6,735.3 1396.5,732.0 1402.8,727.8 1407.1,729.6 1413.7,730.9 1419.9,732.3" fill="none" stroke="#4caf50" stroke-width="2.6" stroke-linejoin="round" stroke-linecap="round" />
<circle cx="891.3" cy="820.2" r="4" fill="#4caf50"/>
<circle cx="934.5" cy="817.5" r="4" fill="rgba(76,175,80,0.75)"/>
<line x1="511.00" y1="709.50" x2="1104.30" y2="749.20" stroke="#000" stroke-width="4" stroke-linecap="round"/>
<polygon points="511.0,657.1 560.0,657.5 575.0,661.0 898.0,661.8 916.8,654.7 926.0,653.2 938.8,652.5 958.1,650.8 1419.3,650.8 1419.3,670.0 1306.0,670.3 1260.0,671.3 1196.0,672.2 1150.0,673.6 900.0,673.3 805.0,673.2 791.9,674.9 511.0,674.8" fill="#e8f3fd"/>
<polyline points="511.0,657.1 560.0,657.5 575.0,661.0 898.0,661.8 916.8,654.7 926.0,653.2 938.8,652.5 958.1,650.8 1419.3,650.8" fill="none" stroke="#f7a1a8" stroke-width="2" stroke-linejoin="round" stroke-linecap="round" />
<polyline points="511.0,674.8 791.9,674.9 805.0,673.2 900.0,673.3 1150.0,673.6 1196.0,672.2 1260.0,671.3 1306.0,670.3 1419.3,670.0" fill="none" stroke="#80cbc4" stroke-width="2" stroke-linejoin="round" stroke-linecap="round" />
<polyline points="511.0,672.8 545.0,672.8" fill="none" stroke="#f23645" stroke-width="3" stroke-linejoin="round"/>
<polyline points="545.0,672.8 600.0,671.5 662.0,669.6" fill="none" stroke="#4caf50" stroke-width="3" stroke-linejoin="round"/>
<polyline points="662.0,669.6 700.0,670.2 735.0,669.0" fill="none" stroke="#f23645" stroke-width="3" stroke-linejoin="round"/>
<polyline points="735.0,669.0 739.4,668.4 752.5,667.6" fill="none" stroke="#4caf50" stroke-width="3" stroke-linejoin="round"/>
<polyline points="752.5,667.6 757.0,667.6" fill="none" stroke="#787b86" stroke-width="3" stroke-linejoin="round"/>
<polyline points="757.0,667.6 772.2,667.6" fill="none" stroke="#f23645" stroke-width="3" stroke-linejoin="round"/>
<polyline points="772.2,667.6 776.2,667.6" fill="none" stroke="#4caf50" stroke-width="3" stroke-linejoin="round"/>
<polyline points="776.2,667.6 784.0,667.6" fill="none" stroke="#f23645" stroke-width="3" stroke-linejoin="round"/>
<polyline points="784.0,667.6 791.9,667.6" fill="none" stroke="#4caf50" stroke-width="3" stroke-linejoin="round"/>
<polyline points="791.9,667.6 808.0,667.6" fill="none" stroke="#f23645" stroke-width="3" stroke-linejoin="round"/>
<polyline points="808.0,667.6 812.0,667.6" fill="none" stroke="#787b86" stroke-width="3" stroke-linejoin="round"/>
<polyline points="812.0,667.6 831.3,668.6 844.5,669.3 861.0,669.7" fill="none" stroke="#f23645" stroke-width="3" stroke-linejoin="round"/>
<polyline points="861.0,669.7 866.0,669.7" fill="none" stroke="#787b86" stroke-width="3" stroke-linejoin="round"/>
<polyline points="866.0,669.7 880.0,666.7 898.4,662.1 916.8,654.7 926.0,653.2 938.8,652.5 958.1,650.7" fill="none" stroke="#4caf50" stroke-width="3" stroke-linejoin="round"/>
<polyline points="958.1,650.7 964.6,651.4 972.0,652.7" fill="none" stroke="#f23645" stroke-width="3" stroke-linejoin="round"/>
<polyline points="972.0,652.7 976.0,653.1" fill="none" stroke="#787b86" stroke-width="3" stroke-linejoin="round"/>
<polyline points="976.0,653.1 990.3,654.7 1008.7,655.6 1027.1,656.9" fill="none" stroke="#f23645" stroke-width="3" stroke-linejoin="round"/>
<polyline points="1027.1,656.9 1031.0,657.2" fill="none" stroke="#787b86" stroke-width="3" stroke-linejoin="round"/>
<polyline points="1031.0,657.2 1036.3,657.8 1063.8,660.2" fill="none" stroke="#f23645" stroke-width="3" stroke-linejoin="round"/>
<polyline points="1063.8,660.2 1073.0,659.7 1082.0,659.3" fill="none" stroke="#4caf50" stroke-width="3" stroke-linejoin="round"/>
<polyline points="1082.0,659.3 1086.0,659.3" fill="none" stroke="#787b86" stroke-width="3" stroke-linejoin="round"/>
<polyline points="1086.0,659.3 1094.2,659.3" fill="none" stroke="#4caf50" stroke-width="3" stroke-linejoin="round"/>
<polyline points="1094.2,659.3 1109.8,661.1 1119.0,663.3 1126.3,663.5" fill="none" stroke="#f23645" stroke-width="3" stroke-linejoin="round"/>
<polyline points="1126.3,663.5 1130.0,663.5" fill="none" stroke="#4caf50" stroke-width="3" stroke-linejoin="round"/>
<polyline points="1130.0,663.5 1137.0,664.2" fill="none" stroke="#f23645" stroke-width="3" stroke-linejoin="round"/>
<polyline points="1137.0,664.2 1141.0,664.6" fill="none" stroke="#787b86" stroke-width="3" stroke-linejoin="round"/>
<polyline points="1141.0,664.6 1144.7,665.7 1150.0,667.2 1157.4,668.9" fill="none" stroke="#f23645" stroke-width="3" stroke-linejoin="round"/>
<polyline points="1157.4,668.9 1162.9,668.1" fill="none" stroke="#4caf50" stroke-width="3" stroke-linejoin="round"/>
<polyline points="1162.9,668.1 1173.9,668.9" fill="none" stroke="#f23645" stroke-width="3" stroke-linejoin="round"/>
<polyline points="1173.9,668.9 1192.0,668.0" fill="none" stroke="#4caf50" stroke-width="3" stroke-linejoin="round"/>
<polyline points="1192.0,668.0 1196.0,667.8" fill="none" stroke="#787b86" stroke-width="3" stroke-linejoin="round"/>
<polyline points="1196.0,667.8 1212.5,667.2" fill="none" stroke="#4caf50" stroke-width="3" stroke-linejoin="round"/>
<polyline points="1212.5,667.2 1248.0,669.3" fill="none" stroke="#f23645" stroke-width="3" stroke-linejoin="round"/>
<polyline points="1248.0,669.3 1253.0,669.8" fill="none" stroke="#787b86" stroke-width="3" stroke-linejoin="round"/>
<polyline points="1253.0,669.8 1255.7,670.3 1271.3,668.9" fill="none" stroke="#4caf50" stroke-width="3" stroke-linejoin="round"/>
<polyline points="1271.3,668.9 1276.0,668.9" fill="none" stroke="#f23645" stroke-width="3" stroke-linejoin="round"/>
<polyline points="1276.0,668.9 1280.0,668.9" fill="none" stroke="#4caf50" stroke-width="3" stroke-linejoin="round"/>
<polyline points="1280.0,668.9 1284.0,669.0" fill="none" stroke="#f23645" stroke-width="3" stroke-linejoin="round"/>
<polyline points="1284.0,669.0 1299.0,669.0" fill="none" stroke="#4caf50" stroke-width="3" stroke-linejoin="round"/>
<polyline points="1299.0,669.0 1303.0,669.0" fill="none" stroke="#f23645" stroke-width="3" stroke-linejoin="round"/>
<polyline points="1303.0,669.0 1307.0,668.8" fill="none" stroke="#787b86" stroke-width="3" stroke-linejoin="round"/>
<polyline points="1307.0,668.8 1350.4,667.6" fill="none" stroke="#4caf50" stroke-width="3" stroke-linejoin="round"/>
<polyline points="1350.4,667.6 1358.0,667.9" fill="none" stroke="#f23645" stroke-width="3" stroke-linejoin="round"/>
<polyline points="1358.0,667.9 1362.0,667.9" fill="none" stroke="#787b86" stroke-width="3" stroke-linejoin="round"/>
<polyline points="1362.0,667.9 1379.8,668.5" fill="none" stroke="#f23645" stroke-width="3" stroke-linejoin="round"/>
<polyline points="1379.8,668.5 1385.0,668.5" fill="none" stroke="#4caf50" stroke-width="3" stroke-linejoin="round"/>
<polyline points="1385.0,668.5 1395.0,668.5" fill="none" stroke="#f23645" stroke-width="3" stroke-linejoin="round"/>
<polyline points="1395.0,668.5 1401.0,668.5" fill="none" stroke="#4caf50" stroke-width="3" stroke-linejoin="round"/>
<polyline points="1401.0,668.5 1409.0,668.5" fill="none" stroke="#f23645" stroke-width="3" stroke-linejoin="round"/>
<polyline points="1409.0,668.5 1413.0,668.5" fill="none" stroke="#4caf50" stroke-width="3" stroke-linejoin="round"/>
<polyline points="1413.0,668.5 1419.3,668.5" fill="none" stroke="#787b86" stroke-width="3" stroke-linejoin="round"/>
<rect x="513.00" y="654.00" width="226.00" height="21.00" fill="rgba(255,255,255,0.55)" rx="0" />
<text x="518.1" y="664.3" font-size="12.5" fill="#131722" font-weight="normal" text-anchor="start" dominant-baseline="central" textLength="217" lengthAdjust="spacingAndGlyphs" >AntiVestor - BBW + Pinch Points 1.5.0</text>
<rect x="513.00" y="686.00" width="414.00" height="21.00" fill="rgba(255,255,255,0.6)" rx="0" />
<text x="518.4" y="696.4" font-size="12.5" fill="#131722" font-weight="normal" text-anchor="start" dominant-baseline="central" textLength="406.9" lengthAdjust="spacingAndGlyphs" >MACD-V — Volatility-Normalised Momentum (±140, red OB / green OS)</text>
<text x="518.4" y="630.8" font-size="12.5" fill="#131722" font-weight="normal" text-anchor="start" dominant-baseline="central" textLength="120.6" lengthAdjust="spacingAndGlyphs" >AV - BB %b 50 close 2</text>
<text x="647.3" y="630.8" font-size="12.5" fill="#f23645" font-weight="normal" text-anchor="start" dominant-baseline="central" textLength="25.1" lengthAdjust="spacingAndGlyphs" >0.92</text>
<g fill="none" stroke="#2a2e39" stroke-width="1.2"><path d="M577.5 39.7 C580 33.2 590 33.2 592.5 39.7 C590 46.2 580 46.2 577.5 39.7 Z"/><circle cx="585" cy="39.7" r="2.3"/><line x1="579.2" y1="45.7" x2="590.9" y2="34.1"/></g>
<g fill="none" stroke="#2a2e39" stroke-width="1.2"><path d="M760.0 64.6 C762.5 58.099999999999994 772.5 58.099999999999994 775.0 64.6 C772.5 71.1 762.5 71.1 760.0 64.6 Z"/><circle cx="767.5" cy="64.6" r="2.3"/><line x1="761.7" y1="70.6" x2="773.4" y2="58.99999999999999"/></g>
<path d="M528 92 L531.5 88.5 L535 92" fill="none" stroke="#2a2e39" stroke-width="1.4"/>
<rect x="1404.60" y="4.20" width="22.40" height="23.50" fill="#fff" rx="3" stroke="#e6e8ee" stroke-width="1"/>
<rect x="1432.60" y="4.20" width="22.40" height="23.50" fill="#fff" rx="3" stroke="#e6e8ee" stroke-width="1"/>
<g fill="none" stroke="#2a2e39" stroke-width="1.3"><line x1="1416.2" y1="11.5" x2="1416.2" y2="21.5"/><path d="M1412.3 17.6 L1416.2 21.6 L1420.1 17.6"/><rect x="1439.2" y="11" width="10.6" height="10.6" rx="2.5"/></g>
<rect x="1438" y="14.3" width="13" height="4" fill="#fff"/>
<path d="M1489.4 889.8 L1497.6 889.8 L1501.1 896.2 L1497.6 902.4 L1489.4 902.4 L1486 896.2 Z" fill="none" stroke="#2a2e39" stroke-width="1.2"/><circle cx="1493.5" cy="896.2" r="1.6" fill="none" stroke="#2a2e39" stroke-width="1.1"/>
<rect x="9.80" y="616.00" width="27.40" height="19.00" fill="#fff" rx="3" stroke="#e0e3eb" stroke-width="1"/>
<path d="M20 624 L23.5 627.5 L27 624" fill="none" stroke="#2a2e39" stroke-width="1.4"/>
<circle cx="253" cy="600" r="8.9" fill="#fff3e0"/>
<path d="M249.7 602.6 A3.3 3.6 0 0 1 256.3 602.6 Z" fill="#ff9800"/>
<g stroke="#ff9800" stroke-width="1.2" stroke-linecap="round"><line x1="250.3" y1="595.3" x2="250.7" y2="596.6"/><line x1="255.7" y1="595.3" x2="255.3" y2="596.6"/><line x1="246.8" y1="599.6" x2="248" y2="600.2"/><line x1="259.2" y1="599.6" x2="258" y2="600.2"/></g>
<rect x="11.00" y="850.50" width="34.50" height="19.00" fill="#fff" rx="0" />
<line x1="1.00" y1="850.50" x2="11.00" y2="850.50" stroke="#4caf50" stroke-width="1" />
<path d="M12.9 853 H24.9 V867.75 H19 V858.7 H12.9 Z" fill="#111"/><circle cx="30" cy="855.9" r="2.9" fill="#111"/><path d="M36.5 853 H42.8 L36.8 867.75 H30.1 Z" fill="#111"/>
</svg>

</body></html>
